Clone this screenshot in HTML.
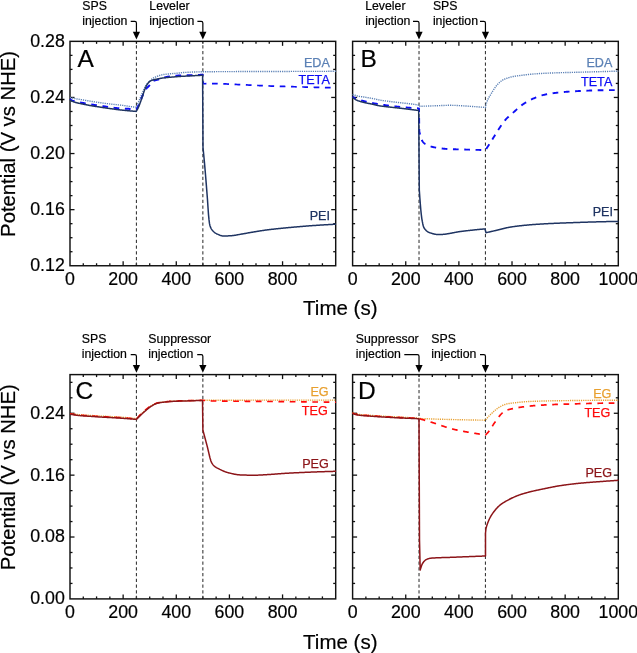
<!DOCTYPE html>
<html><head><meta charset="utf-8"><style>
html,body{margin:0;padding:0;background:#fff;width:637px;height:653px;overflow:hidden}
svg{display:block;will-change:transform}
text{font-family:"Liberation Sans", sans-serif;fill:#000;stroke:#000;stroke-width:0.2px}
</style></head><body>
<svg width="637" height="653" viewBox="0 0 637 653">
<rect width="637" height="653" fill="#fff"/>
<rect x="70" y="41.35" width="265.7" height="224.4" fill="none" stroke="#111" stroke-width="1.45"/>
<line x1="83.28" y1="265.75" x2="83.28" y2="263.25" stroke="#111" stroke-width="1.3"/>
<line x1="83.28" y1="41.35" x2="83.28" y2="43.85" stroke="#111" stroke-width="1.3"/>
<line x1="96.57" y1="265.75" x2="96.57" y2="263.25" stroke="#111" stroke-width="1.3"/>
<line x1="96.57" y1="41.35" x2="96.57" y2="43.85" stroke="#111" stroke-width="1.3"/>
<line x1="109.85" y1="265.75" x2="109.85" y2="263.25" stroke="#111" stroke-width="1.3"/>
<line x1="109.85" y1="41.35" x2="109.85" y2="43.85" stroke="#111" stroke-width="1.3"/>
<line x1="123.14" y1="265.75" x2="123.14" y2="261.25" stroke="#111" stroke-width="1.3"/>
<line x1="123.14" y1="41.35" x2="123.14" y2="45.85" stroke="#111" stroke-width="1.3"/>
<line x1="136.43" y1="265.75" x2="136.43" y2="263.25" stroke="#111" stroke-width="1.3"/>
<line x1="136.43" y1="41.35" x2="136.43" y2="43.85" stroke="#111" stroke-width="1.3"/>
<line x1="149.71" y1="265.75" x2="149.71" y2="263.25" stroke="#111" stroke-width="1.3"/>
<line x1="149.71" y1="41.35" x2="149.71" y2="43.85" stroke="#111" stroke-width="1.3"/>
<line x1="163.00" y1="265.75" x2="163.00" y2="263.25" stroke="#111" stroke-width="1.3"/>
<line x1="163.00" y1="41.35" x2="163.00" y2="43.85" stroke="#111" stroke-width="1.3"/>
<line x1="176.28" y1="265.75" x2="176.28" y2="261.25" stroke="#111" stroke-width="1.3"/>
<line x1="176.28" y1="41.35" x2="176.28" y2="45.85" stroke="#111" stroke-width="1.3"/>
<line x1="189.56" y1="265.75" x2="189.56" y2="263.25" stroke="#111" stroke-width="1.3"/>
<line x1="189.56" y1="41.35" x2="189.56" y2="43.85" stroke="#111" stroke-width="1.3"/>
<line x1="202.85" y1="265.75" x2="202.85" y2="263.25" stroke="#111" stroke-width="1.3"/>
<line x1="202.85" y1="41.35" x2="202.85" y2="43.85" stroke="#111" stroke-width="1.3"/>
<line x1="216.13" y1="265.75" x2="216.13" y2="263.25" stroke="#111" stroke-width="1.3"/>
<line x1="216.13" y1="41.35" x2="216.13" y2="43.85" stroke="#111" stroke-width="1.3"/>
<line x1="229.42" y1="265.75" x2="229.42" y2="261.25" stroke="#111" stroke-width="1.3"/>
<line x1="229.42" y1="41.35" x2="229.42" y2="45.85" stroke="#111" stroke-width="1.3"/>
<line x1="242.71" y1="265.75" x2="242.71" y2="263.25" stroke="#111" stroke-width="1.3"/>
<line x1="242.71" y1="41.35" x2="242.71" y2="43.85" stroke="#111" stroke-width="1.3"/>
<line x1="255.99" y1="265.75" x2="255.99" y2="263.25" stroke="#111" stroke-width="1.3"/>
<line x1="255.99" y1="41.35" x2="255.99" y2="43.85" stroke="#111" stroke-width="1.3"/>
<line x1="269.27" y1="265.75" x2="269.27" y2="263.25" stroke="#111" stroke-width="1.3"/>
<line x1="269.27" y1="41.35" x2="269.27" y2="43.85" stroke="#111" stroke-width="1.3"/>
<line x1="282.56" y1="265.75" x2="282.56" y2="261.25" stroke="#111" stroke-width="1.3"/>
<line x1="282.56" y1="41.35" x2="282.56" y2="45.85" stroke="#111" stroke-width="1.3"/>
<line x1="295.85" y1="265.75" x2="295.85" y2="263.25" stroke="#111" stroke-width="1.3"/>
<line x1="295.85" y1="41.35" x2="295.85" y2="43.85" stroke="#111" stroke-width="1.3"/>
<line x1="309.13" y1="265.75" x2="309.13" y2="263.25" stroke="#111" stroke-width="1.3"/>
<line x1="309.13" y1="41.35" x2="309.13" y2="43.85" stroke="#111" stroke-width="1.3"/>
<line x1="322.41" y1="265.75" x2="322.41" y2="263.25" stroke="#111" stroke-width="1.3"/>
<line x1="322.41" y1="41.35" x2="322.41" y2="43.85" stroke="#111" stroke-width="1.3"/>
<line x1="70" y1="251.72" x2="72.5" y2="251.72" stroke="#111" stroke-width="1.3"/>
<line x1="335.7" y1="251.72" x2="333.2" y2="251.72" stroke="#111" stroke-width="1.3"/>
<line x1="70" y1="237.70" x2="72.5" y2="237.70" stroke="#111" stroke-width="1.3"/>
<line x1="335.7" y1="237.70" x2="333.2" y2="237.70" stroke="#111" stroke-width="1.3"/>
<line x1="70" y1="223.68" x2="72.5" y2="223.68" stroke="#111" stroke-width="1.3"/>
<line x1="335.7" y1="223.68" x2="333.2" y2="223.68" stroke="#111" stroke-width="1.3"/>
<line x1="70" y1="209.65" x2="74.5" y2="209.65" stroke="#111" stroke-width="1.3"/>
<line x1="335.7" y1="209.65" x2="331.2" y2="209.65" stroke="#111" stroke-width="1.3"/>
<line x1="70" y1="195.63" x2="72.5" y2="195.63" stroke="#111" stroke-width="1.3"/>
<line x1="335.7" y1="195.63" x2="333.2" y2="195.63" stroke="#111" stroke-width="1.3"/>
<line x1="70" y1="181.60" x2="72.5" y2="181.60" stroke="#111" stroke-width="1.3"/>
<line x1="335.7" y1="181.60" x2="333.2" y2="181.60" stroke="#111" stroke-width="1.3"/>
<line x1="70" y1="167.57" x2="72.5" y2="167.57" stroke="#111" stroke-width="1.3"/>
<line x1="335.7" y1="167.57" x2="333.2" y2="167.57" stroke="#111" stroke-width="1.3"/>
<line x1="70" y1="153.55" x2="74.5" y2="153.55" stroke="#111" stroke-width="1.3"/>
<line x1="335.7" y1="153.55" x2="331.2" y2="153.55" stroke="#111" stroke-width="1.3"/>
<line x1="70" y1="139.53" x2="72.5" y2="139.53" stroke="#111" stroke-width="1.3"/>
<line x1="335.7" y1="139.53" x2="333.2" y2="139.53" stroke="#111" stroke-width="1.3"/>
<line x1="70" y1="125.50" x2="72.5" y2="125.50" stroke="#111" stroke-width="1.3"/>
<line x1="335.7" y1="125.50" x2="333.2" y2="125.50" stroke="#111" stroke-width="1.3"/>
<line x1="70" y1="111.48" x2="72.5" y2="111.48" stroke="#111" stroke-width="1.3"/>
<line x1="335.7" y1="111.48" x2="333.2" y2="111.48" stroke="#111" stroke-width="1.3"/>
<line x1="70" y1="97.45" x2="74.5" y2="97.45" stroke="#111" stroke-width="1.3"/>
<line x1="335.7" y1="97.45" x2="331.2" y2="97.45" stroke="#111" stroke-width="1.3"/>
<line x1="70" y1="83.43" x2="72.5" y2="83.43" stroke="#111" stroke-width="1.3"/>
<line x1="335.7" y1="83.43" x2="333.2" y2="83.43" stroke="#111" stroke-width="1.3"/>
<line x1="70" y1="69.40" x2="72.5" y2="69.40" stroke="#111" stroke-width="1.3"/>
<line x1="335.7" y1="69.40" x2="333.2" y2="69.40" stroke="#111" stroke-width="1.3"/>
<line x1="70" y1="55.38" x2="72.5" y2="55.38" stroke="#111" stroke-width="1.3"/>
<line x1="335.7" y1="55.38" x2="333.2" y2="55.38" stroke="#111" stroke-width="1.3"/>
<text x="64.8" y="271.15" font-size="17.8" text-anchor="end">0.12</text>
<text x="64.8" y="215.05" font-size="17.8" text-anchor="end">0.16</text>
<text x="64.8" y="158.95" font-size="17.8" text-anchor="end">0.20</text>
<text x="64.8" y="102.85" font-size="17.8" text-anchor="end">0.24</text>
<text x="64.8" y="46.75" font-size="17.8" text-anchor="end">0.28</text>
<text x="70.00" y="285.25" font-size="17.8" text-anchor="middle">0</text>
<text x="123.14" y="285.25" font-size="17.8" text-anchor="middle">200</text>
<text x="176.28" y="285.25" font-size="17.8" text-anchor="middle">400</text>
<text x="229.42" y="285.25" font-size="17.8" text-anchor="middle">600</text>
<text x="282.56" y="285.25" font-size="17.8" text-anchor="middle">800</text>
<rect x="352.6" y="41.35" width="265.69999999999993" height="224.4" fill="none" stroke="#111" stroke-width="1.45"/>
<line x1="365.88" y1="265.75" x2="365.88" y2="263.25" stroke="#111" stroke-width="1.3"/>
<line x1="365.88" y1="41.35" x2="365.88" y2="43.85" stroke="#111" stroke-width="1.3"/>
<line x1="379.17" y1="265.75" x2="379.17" y2="263.25" stroke="#111" stroke-width="1.3"/>
<line x1="379.17" y1="41.35" x2="379.17" y2="43.85" stroke="#111" stroke-width="1.3"/>
<line x1="392.46" y1="265.75" x2="392.46" y2="263.25" stroke="#111" stroke-width="1.3"/>
<line x1="392.46" y1="41.35" x2="392.46" y2="43.85" stroke="#111" stroke-width="1.3"/>
<line x1="405.74" y1="265.75" x2="405.74" y2="261.25" stroke="#111" stroke-width="1.3"/>
<line x1="405.74" y1="41.35" x2="405.74" y2="45.85" stroke="#111" stroke-width="1.3"/>
<line x1="419.02" y1="265.75" x2="419.02" y2="263.25" stroke="#111" stroke-width="1.3"/>
<line x1="419.02" y1="41.35" x2="419.02" y2="43.85" stroke="#111" stroke-width="1.3"/>
<line x1="432.31" y1="265.75" x2="432.31" y2="263.25" stroke="#111" stroke-width="1.3"/>
<line x1="432.31" y1="41.35" x2="432.31" y2="43.85" stroke="#111" stroke-width="1.3"/>
<line x1="445.60" y1="265.75" x2="445.60" y2="263.25" stroke="#111" stroke-width="1.3"/>
<line x1="445.60" y1="41.35" x2="445.60" y2="43.85" stroke="#111" stroke-width="1.3"/>
<line x1="458.88" y1="265.75" x2="458.88" y2="261.25" stroke="#111" stroke-width="1.3"/>
<line x1="458.88" y1="41.35" x2="458.88" y2="45.85" stroke="#111" stroke-width="1.3"/>
<line x1="472.16" y1="265.75" x2="472.16" y2="263.25" stroke="#111" stroke-width="1.3"/>
<line x1="472.16" y1="41.35" x2="472.16" y2="43.85" stroke="#111" stroke-width="1.3"/>
<line x1="485.45" y1="265.75" x2="485.45" y2="263.25" stroke="#111" stroke-width="1.3"/>
<line x1="485.45" y1="41.35" x2="485.45" y2="43.85" stroke="#111" stroke-width="1.3"/>
<line x1="498.74" y1="265.75" x2="498.74" y2="263.25" stroke="#111" stroke-width="1.3"/>
<line x1="498.74" y1="41.35" x2="498.74" y2="43.85" stroke="#111" stroke-width="1.3"/>
<line x1="512.02" y1="265.75" x2="512.02" y2="261.25" stroke="#111" stroke-width="1.3"/>
<line x1="512.02" y1="41.35" x2="512.02" y2="45.85" stroke="#111" stroke-width="1.3"/>
<line x1="525.30" y1="265.75" x2="525.30" y2="263.25" stroke="#111" stroke-width="1.3"/>
<line x1="525.30" y1="41.35" x2="525.30" y2="43.85" stroke="#111" stroke-width="1.3"/>
<line x1="538.59" y1="265.75" x2="538.59" y2="263.25" stroke="#111" stroke-width="1.3"/>
<line x1="538.59" y1="41.35" x2="538.59" y2="43.85" stroke="#111" stroke-width="1.3"/>
<line x1="551.88" y1="265.75" x2="551.88" y2="263.25" stroke="#111" stroke-width="1.3"/>
<line x1="551.88" y1="41.35" x2="551.88" y2="43.85" stroke="#111" stroke-width="1.3"/>
<line x1="565.16" y1="265.75" x2="565.16" y2="261.25" stroke="#111" stroke-width="1.3"/>
<line x1="565.16" y1="41.35" x2="565.16" y2="45.85" stroke="#111" stroke-width="1.3"/>
<line x1="578.44" y1="265.75" x2="578.44" y2="263.25" stroke="#111" stroke-width="1.3"/>
<line x1="578.44" y1="41.35" x2="578.44" y2="43.85" stroke="#111" stroke-width="1.3"/>
<line x1="591.73" y1="265.75" x2="591.73" y2="263.25" stroke="#111" stroke-width="1.3"/>
<line x1="591.73" y1="41.35" x2="591.73" y2="43.85" stroke="#111" stroke-width="1.3"/>
<line x1="605.01" y1="265.75" x2="605.01" y2="263.25" stroke="#111" stroke-width="1.3"/>
<line x1="605.01" y1="41.35" x2="605.01" y2="43.85" stroke="#111" stroke-width="1.3"/>
<line x1="352.6" y1="251.72" x2="355.1" y2="251.72" stroke="#111" stroke-width="1.3"/>
<line x1="618.3" y1="251.72" x2="615.8" y2="251.72" stroke="#111" stroke-width="1.3"/>
<line x1="352.6" y1="237.70" x2="355.1" y2="237.70" stroke="#111" stroke-width="1.3"/>
<line x1="618.3" y1="237.70" x2="615.8" y2="237.70" stroke="#111" stroke-width="1.3"/>
<line x1="352.6" y1="223.68" x2="355.1" y2="223.68" stroke="#111" stroke-width="1.3"/>
<line x1="618.3" y1="223.68" x2="615.8" y2="223.68" stroke="#111" stroke-width="1.3"/>
<line x1="352.6" y1="209.65" x2="357.1" y2="209.65" stroke="#111" stroke-width="1.3"/>
<line x1="618.3" y1="209.65" x2="613.8" y2="209.65" stroke="#111" stroke-width="1.3"/>
<line x1="352.6" y1="195.63" x2="355.1" y2="195.63" stroke="#111" stroke-width="1.3"/>
<line x1="618.3" y1="195.63" x2="615.8" y2="195.63" stroke="#111" stroke-width="1.3"/>
<line x1="352.6" y1="181.60" x2="355.1" y2="181.60" stroke="#111" stroke-width="1.3"/>
<line x1="618.3" y1="181.60" x2="615.8" y2="181.60" stroke="#111" stroke-width="1.3"/>
<line x1="352.6" y1="167.57" x2="355.1" y2="167.57" stroke="#111" stroke-width="1.3"/>
<line x1="618.3" y1="167.57" x2="615.8" y2="167.57" stroke="#111" stroke-width="1.3"/>
<line x1="352.6" y1="153.55" x2="357.1" y2="153.55" stroke="#111" stroke-width="1.3"/>
<line x1="618.3" y1="153.55" x2="613.8" y2="153.55" stroke="#111" stroke-width="1.3"/>
<line x1="352.6" y1="139.53" x2="355.1" y2="139.53" stroke="#111" stroke-width="1.3"/>
<line x1="618.3" y1="139.53" x2="615.8" y2="139.53" stroke="#111" stroke-width="1.3"/>
<line x1="352.6" y1="125.50" x2="355.1" y2="125.50" stroke="#111" stroke-width="1.3"/>
<line x1="618.3" y1="125.50" x2="615.8" y2="125.50" stroke="#111" stroke-width="1.3"/>
<line x1="352.6" y1="111.48" x2="355.1" y2="111.48" stroke="#111" stroke-width="1.3"/>
<line x1="618.3" y1="111.48" x2="615.8" y2="111.48" stroke="#111" stroke-width="1.3"/>
<line x1="352.6" y1="97.45" x2="357.1" y2="97.45" stroke="#111" stroke-width="1.3"/>
<line x1="618.3" y1="97.45" x2="613.8" y2="97.45" stroke="#111" stroke-width="1.3"/>
<line x1="352.6" y1="83.43" x2="355.1" y2="83.43" stroke="#111" stroke-width="1.3"/>
<line x1="618.3" y1="83.43" x2="615.8" y2="83.43" stroke="#111" stroke-width="1.3"/>
<line x1="352.6" y1="69.40" x2="355.1" y2="69.40" stroke="#111" stroke-width="1.3"/>
<line x1="618.3" y1="69.40" x2="615.8" y2="69.40" stroke="#111" stroke-width="1.3"/>
<line x1="352.6" y1="55.38" x2="355.1" y2="55.38" stroke="#111" stroke-width="1.3"/>
<line x1="618.3" y1="55.38" x2="615.8" y2="55.38" stroke="#111" stroke-width="1.3"/>
<text x="352.60" y="285.25" font-size="17.8" text-anchor="middle">0</text>
<text x="405.74" y="285.25" font-size="17.8" text-anchor="middle">200</text>
<text x="458.88" y="285.25" font-size="17.8" text-anchor="middle">400</text>
<text x="512.02" y="285.25" font-size="17.8" text-anchor="middle">600</text>
<text x="565.16" y="285.25" font-size="17.8" text-anchor="middle">800</text>
<text x="618.30" y="285.25" font-size="17.8" text-anchor="middle">1000</text>
<rect x="70" y="374.6" width="265.7" height="224.29999999999995" fill="none" stroke="#111" stroke-width="1.45"/>
<line x1="83.28" y1="598.9" x2="83.28" y2="596.4" stroke="#111" stroke-width="1.3"/>
<line x1="83.28" y1="374.6" x2="83.28" y2="377.1" stroke="#111" stroke-width="1.3"/>
<line x1="96.57" y1="598.9" x2="96.57" y2="596.4" stroke="#111" stroke-width="1.3"/>
<line x1="96.57" y1="374.6" x2="96.57" y2="377.1" stroke="#111" stroke-width="1.3"/>
<line x1="109.85" y1="598.9" x2="109.85" y2="596.4" stroke="#111" stroke-width="1.3"/>
<line x1="109.85" y1="374.6" x2="109.85" y2="377.1" stroke="#111" stroke-width="1.3"/>
<line x1="123.14" y1="598.9" x2="123.14" y2="594.4" stroke="#111" stroke-width="1.3"/>
<line x1="123.14" y1="374.6" x2="123.14" y2="379.1" stroke="#111" stroke-width="1.3"/>
<line x1="136.43" y1="598.9" x2="136.43" y2="596.4" stroke="#111" stroke-width="1.3"/>
<line x1="136.43" y1="374.6" x2="136.43" y2="377.1" stroke="#111" stroke-width="1.3"/>
<line x1="149.71" y1="598.9" x2="149.71" y2="596.4" stroke="#111" stroke-width="1.3"/>
<line x1="149.71" y1="374.6" x2="149.71" y2="377.1" stroke="#111" stroke-width="1.3"/>
<line x1="163.00" y1="598.9" x2="163.00" y2="596.4" stroke="#111" stroke-width="1.3"/>
<line x1="163.00" y1="374.6" x2="163.00" y2="377.1" stroke="#111" stroke-width="1.3"/>
<line x1="176.28" y1="598.9" x2="176.28" y2="594.4" stroke="#111" stroke-width="1.3"/>
<line x1="176.28" y1="374.6" x2="176.28" y2="379.1" stroke="#111" stroke-width="1.3"/>
<line x1="189.56" y1="598.9" x2="189.56" y2="596.4" stroke="#111" stroke-width="1.3"/>
<line x1="189.56" y1="374.6" x2="189.56" y2="377.1" stroke="#111" stroke-width="1.3"/>
<line x1="202.85" y1="598.9" x2="202.85" y2="596.4" stroke="#111" stroke-width="1.3"/>
<line x1="202.85" y1="374.6" x2="202.85" y2="377.1" stroke="#111" stroke-width="1.3"/>
<line x1="216.13" y1="598.9" x2="216.13" y2="596.4" stroke="#111" stroke-width="1.3"/>
<line x1="216.13" y1="374.6" x2="216.13" y2="377.1" stroke="#111" stroke-width="1.3"/>
<line x1="229.42" y1="598.9" x2="229.42" y2="594.4" stroke="#111" stroke-width="1.3"/>
<line x1="229.42" y1="374.6" x2="229.42" y2="379.1" stroke="#111" stroke-width="1.3"/>
<line x1="242.71" y1="598.9" x2="242.71" y2="596.4" stroke="#111" stroke-width="1.3"/>
<line x1="242.71" y1="374.6" x2="242.71" y2="377.1" stroke="#111" stroke-width="1.3"/>
<line x1="255.99" y1="598.9" x2="255.99" y2="596.4" stroke="#111" stroke-width="1.3"/>
<line x1="255.99" y1="374.6" x2="255.99" y2="377.1" stroke="#111" stroke-width="1.3"/>
<line x1="269.27" y1="598.9" x2="269.27" y2="596.4" stroke="#111" stroke-width="1.3"/>
<line x1="269.27" y1="374.6" x2="269.27" y2="377.1" stroke="#111" stroke-width="1.3"/>
<line x1="282.56" y1="598.9" x2="282.56" y2="594.4" stroke="#111" stroke-width="1.3"/>
<line x1="282.56" y1="374.6" x2="282.56" y2="379.1" stroke="#111" stroke-width="1.3"/>
<line x1="295.85" y1="598.9" x2="295.85" y2="596.4" stroke="#111" stroke-width="1.3"/>
<line x1="295.85" y1="374.6" x2="295.85" y2="377.1" stroke="#111" stroke-width="1.3"/>
<line x1="309.13" y1="598.9" x2="309.13" y2="596.4" stroke="#111" stroke-width="1.3"/>
<line x1="309.13" y1="374.6" x2="309.13" y2="377.1" stroke="#111" stroke-width="1.3"/>
<line x1="322.41" y1="598.9" x2="322.41" y2="596.4" stroke="#111" stroke-width="1.3"/>
<line x1="322.41" y1="374.6" x2="322.41" y2="377.1" stroke="#111" stroke-width="1.3"/>
<line x1="70" y1="583.43" x2="72.5" y2="583.43" stroke="#111" stroke-width="1.3"/>
<line x1="335.7" y1="583.43" x2="333.2" y2="583.43" stroke="#111" stroke-width="1.3"/>
<line x1="70" y1="567.96" x2="72.5" y2="567.96" stroke="#111" stroke-width="1.3"/>
<line x1="335.7" y1="567.96" x2="333.2" y2="567.96" stroke="#111" stroke-width="1.3"/>
<line x1="70" y1="552.49" x2="72.5" y2="552.49" stroke="#111" stroke-width="1.3"/>
<line x1="335.7" y1="552.49" x2="333.2" y2="552.49" stroke="#111" stroke-width="1.3"/>
<line x1="70" y1="537.02" x2="74.5" y2="537.02" stroke="#111" stroke-width="1.3"/>
<line x1="335.7" y1="537.02" x2="331.2" y2="537.02" stroke="#111" stroke-width="1.3"/>
<line x1="70" y1="521.56" x2="72.5" y2="521.56" stroke="#111" stroke-width="1.3"/>
<line x1="335.7" y1="521.56" x2="333.2" y2="521.56" stroke="#111" stroke-width="1.3"/>
<line x1="70" y1="506.09" x2="72.5" y2="506.09" stroke="#111" stroke-width="1.3"/>
<line x1="335.7" y1="506.09" x2="333.2" y2="506.09" stroke="#111" stroke-width="1.3"/>
<line x1="70" y1="490.62" x2="72.5" y2="490.62" stroke="#111" stroke-width="1.3"/>
<line x1="335.7" y1="490.62" x2="333.2" y2="490.62" stroke="#111" stroke-width="1.3"/>
<line x1="70" y1="475.15" x2="74.5" y2="475.15" stroke="#111" stroke-width="1.3"/>
<line x1="335.7" y1="475.15" x2="331.2" y2="475.15" stroke="#111" stroke-width="1.3"/>
<line x1="70" y1="459.68" x2="72.5" y2="459.68" stroke="#111" stroke-width="1.3"/>
<line x1="335.7" y1="459.68" x2="333.2" y2="459.68" stroke="#111" stroke-width="1.3"/>
<line x1="70" y1="444.21" x2="72.5" y2="444.21" stroke="#111" stroke-width="1.3"/>
<line x1="335.7" y1="444.21" x2="333.2" y2="444.21" stroke="#111" stroke-width="1.3"/>
<line x1="70" y1="428.74" x2="72.5" y2="428.74" stroke="#111" stroke-width="1.3"/>
<line x1="335.7" y1="428.74" x2="333.2" y2="428.74" stroke="#111" stroke-width="1.3"/>
<line x1="70" y1="413.27" x2="74.5" y2="413.27" stroke="#111" stroke-width="1.3"/>
<line x1="335.7" y1="413.27" x2="331.2" y2="413.27" stroke="#111" stroke-width="1.3"/>
<line x1="70" y1="397.80" x2="72.5" y2="397.80" stroke="#111" stroke-width="1.3"/>
<line x1="335.7" y1="397.80" x2="333.2" y2="397.80" stroke="#111" stroke-width="1.3"/>
<line x1="70" y1="382.33" x2="72.5" y2="382.33" stroke="#111" stroke-width="1.3"/>
<line x1="335.7" y1="382.33" x2="333.2" y2="382.33" stroke="#111" stroke-width="1.3"/>
<text x="64.8" y="604.30" font-size="17.8" text-anchor="end">0.00</text>
<text x="64.8" y="542.42" font-size="17.8" text-anchor="end">0.08</text>
<text x="64.8" y="480.55" font-size="17.8" text-anchor="end">0.16</text>
<text x="64.8" y="418.67" font-size="17.8" text-anchor="end">0.24</text>
<text x="70.00" y="618.4" font-size="17.8" text-anchor="middle">0</text>
<text x="123.14" y="618.4" font-size="17.8" text-anchor="middle">200</text>
<text x="176.28" y="618.4" font-size="17.8" text-anchor="middle">400</text>
<text x="229.42" y="618.4" font-size="17.8" text-anchor="middle">600</text>
<text x="282.56" y="618.4" font-size="17.8" text-anchor="middle">800</text>
<rect x="352.6" y="374.6" width="265.69999999999993" height="224.29999999999995" fill="none" stroke="#111" stroke-width="1.45"/>
<line x1="365.88" y1="598.9" x2="365.88" y2="596.4" stroke="#111" stroke-width="1.3"/>
<line x1="365.88" y1="374.6" x2="365.88" y2="377.1" stroke="#111" stroke-width="1.3"/>
<line x1="379.17" y1="598.9" x2="379.17" y2="596.4" stroke="#111" stroke-width="1.3"/>
<line x1="379.17" y1="374.6" x2="379.17" y2="377.1" stroke="#111" stroke-width="1.3"/>
<line x1="392.46" y1="598.9" x2="392.46" y2="596.4" stroke="#111" stroke-width="1.3"/>
<line x1="392.46" y1="374.6" x2="392.46" y2="377.1" stroke="#111" stroke-width="1.3"/>
<line x1="405.74" y1="598.9" x2="405.74" y2="594.4" stroke="#111" stroke-width="1.3"/>
<line x1="405.74" y1="374.6" x2="405.74" y2="379.1" stroke="#111" stroke-width="1.3"/>
<line x1="419.02" y1="598.9" x2="419.02" y2="596.4" stroke="#111" stroke-width="1.3"/>
<line x1="419.02" y1="374.6" x2="419.02" y2="377.1" stroke="#111" stroke-width="1.3"/>
<line x1="432.31" y1="598.9" x2="432.31" y2="596.4" stroke="#111" stroke-width="1.3"/>
<line x1="432.31" y1="374.6" x2="432.31" y2="377.1" stroke="#111" stroke-width="1.3"/>
<line x1="445.60" y1="598.9" x2="445.60" y2="596.4" stroke="#111" stroke-width="1.3"/>
<line x1="445.60" y1="374.6" x2="445.60" y2="377.1" stroke="#111" stroke-width="1.3"/>
<line x1="458.88" y1="598.9" x2="458.88" y2="594.4" stroke="#111" stroke-width="1.3"/>
<line x1="458.88" y1="374.6" x2="458.88" y2="379.1" stroke="#111" stroke-width="1.3"/>
<line x1="472.16" y1="598.9" x2="472.16" y2="596.4" stroke="#111" stroke-width="1.3"/>
<line x1="472.16" y1="374.6" x2="472.16" y2="377.1" stroke="#111" stroke-width="1.3"/>
<line x1="485.45" y1="598.9" x2="485.45" y2="596.4" stroke="#111" stroke-width="1.3"/>
<line x1="485.45" y1="374.6" x2="485.45" y2="377.1" stroke="#111" stroke-width="1.3"/>
<line x1="498.74" y1="598.9" x2="498.74" y2="596.4" stroke="#111" stroke-width="1.3"/>
<line x1="498.74" y1="374.6" x2="498.74" y2="377.1" stroke="#111" stroke-width="1.3"/>
<line x1="512.02" y1="598.9" x2="512.02" y2="594.4" stroke="#111" stroke-width="1.3"/>
<line x1="512.02" y1="374.6" x2="512.02" y2="379.1" stroke="#111" stroke-width="1.3"/>
<line x1="525.30" y1="598.9" x2="525.30" y2="596.4" stroke="#111" stroke-width="1.3"/>
<line x1="525.30" y1="374.6" x2="525.30" y2="377.1" stroke="#111" stroke-width="1.3"/>
<line x1="538.59" y1="598.9" x2="538.59" y2="596.4" stroke="#111" stroke-width="1.3"/>
<line x1="538.59" y1="374.6" x2="538.59" y2="377.1" stroke="#111" stroke-width="1.3"/>
<line x1="551.88" y1="598.9" x2="551.88" y2="596.4" stroke="#111" stroke-width="1.3"/>
<line x1="551.88" y1="374.6" x2="551.88" y2="377.1" stroke="#111" stroke-width="1.3"/>
<line x1="565.16" y1="598.9" x2="565.16" y2="594.4" stroke="#111" stroke-width="1.3"/>
<line x1="565.16" y1="374.6" x2="565.16" y2="379.1" stroke="#111" stroke-width="1.3"/>
<line x1="578.44" y1="598.9" x2="578.44" y2="596.4" stroke="#111" stroke-width="1.3"/>
<line x1="578.44" y1="374.6" x2="578.44" y2="377.1" stroke="#111" stroke-width="1.3"/>
<line x1="591.73" y1="598.9" x2="591.73" y2="596.4" stroke="#111" stroke-width="1.3"/>
<line x1="591.73" y1="374.6" x2="591.73" y2="377.1" stroke="#111" stroke-width="1.3"/>
<line x1="605.01" y1="598.9" x2="605.01" y2="596.4" stroke="#111" stroke-width="1.3"/>
<line x1="605.01" y1="374.6" x2="605.01" y2="377.1" stroke="#111" stroke-width="1.3"/>
<line x1="352.6" y1="583.43" x2="355.1" y2="583.43" stroke="#111" stroke-width="1.3"/>
<line x1="618.3" y1="583.43" x2="615.8" y2="583.43" stroke="#111" stroke-width="1.3"/>
<line x1="352.6" y1="567.96" x2="355.1" y2="567.96" stroke="#111" stroke-width="1.3"/>
<line x1="618.3" y1="567.96" x2="615.8" y2="567.96" stroke="#111" stroke-width="1.3"/>
<line x1="352.6" y1="552.49" x2="355.1" y2="552.49" stroke="#111" stroke-width="1.3"/>
<line x1="618.3" y1="552.49" x2="615.8" y2="552.49" stroke="#111" stroke-width="1.3"/>
<line x1="352.6" y1="537.02" x2="357.1" y2="537.02" stroke="#111" stroke-width="1.3"/>
<line x1="618.3" y1="537.02" x2="613.8" y2="537.02" stroke="#111" stroke-width="1.3"/>
<line x1="352.6" y1="521.56" x2="355.1" y2="521.56" stroke="#111" stroke-width="1.3"/>
<line x1="618.3" y1="521.56" x2="615.8" y2="521.56" stroke="#111" stroke-width="1.3"/>
<line x1="352.6" y1="506.09" x2="355.1" y2="506.09" stroke="#111" stroke-width="1.3"/>
<line x1="618.3" y1="506.09" x2="615.8" y2="506.09" stroke="#111" stroke-width="1.3"/>
<line x1="352.6" y1="490.62" x2="355.1" y2="490.62" stroke="#111" stroke-width="1.3"/>
<line x1="618.3" y1="490.62" x2="615.8" y2="490.62" stroke="#111" stroke-width="1.3"/>
<line x1="352.6" y1="475.15" x2="357.1" y2="475.15" stroke="#111" stroke-width="1.3"/>
<line x1="618.3" y1="475.15" x2="613.8" y2="475.15" stroke="#111" stroke-width="1.3"/>
<line x1="352.6" y1="459.68" x2="355.1" y2="459.68" stroke="#111" stroke-width="1.3"/>
<line x1="618.3" y1="459.68" x2="615.8" y2="459.68" stroke="#111" stroke-width="1.3"/>
<line x1="352.6" y1="444.21" x2="355.1" y2="444.21" stroke="#111" stroke-width="1.3"/>
<line x1="618.3" y1="444.21" x2="615.8" y2="444.21" stroke="#111" stroke-width="1.3"/>
<line x1="352.6" y1="428.74" x2="355.1" y2="428.74" stroke="#111" stroke-width="1.3"/>
<line x1="618.3" y1="428.74" x2="615.8" y2="428.74" stroke="#111" stroke-width="1.3"/>
<line x1="352.6" y1="413.27" x2="357.1" y2="413.27" stroke="#111" stroke-width="1.3"/>
<line x1="618.3" y1="413.27" x2="613.8" y2="413.27" stroke="#111" stroke-width="1.3"/>
<line x1="352.6" y1="397.80" x2="355.1" y2="397.80" stroke="#111" stroke-width="1.3"/>
<line x1="618.3" y1="397.80" x2="615.8" y2="397.80" stroke="#111" stroke-width="1.3"/>
<line x1="352.6" y1="382.33" x2="355.1" y2="382.33" stroke="#111" stroke-width="1.3"/>
<line x1="618.3" y1="382.33" x2="615.8" y2="382.33" stroke="#111" stroke-width="1.3"/>
<text x="352.60" y="618.4" font-size="17.8" text-anchor="middle">0</text>
<text x="405.74" y="618.4" font-size="17.8" text-anchor="middle">200</text>
<text x="458.88" y="618.4" font-size="17.8" text-anchor="middle">400</text>
<text x="512.02" y="618.4" font-size="17.8" text-anchor="middle">600</text>
<text x="565.16" y="618.4" font-size="17.8" text-anchor="middle">800</text>
<text x="618.30" y="618.4" font-size="17.8" text-anchor="middle">1000</text>
<line x1="136.43" y1="45.25" x2="136.43" y2="264.95" stroke="#3a3a3a" stroke-width="1.1" stroke-dasharray="3.3 2.42"/>
<line x1="202.85" y1="45.25" x2="202.85" y2="264.95" stroke="#3a3a3a" stroke-width="1.1" stroke-dasharray="3.3 2.42"/>
<line x1="419.02" y1="45.25" x2="419.02" y2="264.95" stroke="#3a3a3a" stroke-width="1.1" stroke-dasharray="3.3 2.42"/>
<line x1="485.45" y1="45.25" x2="485.45" y2="264.95" stroke="#3a3a3a" stroke-width="1.1" stroke-dasharray="3.3 2.42"/>
<line x1="136.43" y1="378.50" x2="136.43" y2="598.10" stroke="#3a3a3a" stroke-width="1.1" stroke-dasharray="3.3 2.42"/>
<line x1="202.85" y1="378.50" x2="202.85" y2="598.10" stroke="#3a3a3a" stroke-width="1.1" stroke-dasharray="3.3 2.42"/>
<line x1="419.02" y1="378.50" x2="419.02" y2="598.10" stroke="#3a3a3a" stroke-width="1.1" stroke-dasharray="3.3 2.42"/>
<line x1="485.45" y1="378.50" x2="485.45" y2="598.10" stroke="#3a3a3a" stroke-width="1.1" stroke-dasharray="3.3 2.42"/>
<text x="82.30" y="9.85" font-size="12.3">SPS</text>
<text x="82.30" y="24.85" font-size="12.3">injection</text>
<path d="M130.70,21.45 L134.83,21.45 Q136.43,21.45 136.43,23.05 L136.43,33.35" fill="none" stroke="#000" stroke-width="1.2"/>
<path d="M132.83,31.85 L140.03,31.85 L136.43,39.55 Z" fill="#000"/>
<text x="149.30" y="9.85" font-size="12.3">Leveler</text>
<text x="149.30" y="24.85" font-size="12.3">injection</text>
<path d="M197.40,21.45 L201.25,21.45 Q202.85,21.45 202.85,23.05 L202.85,33.35" fill="none" stroke="#000" stroke-width="1.2"/>
<path d="M199.25,31.85 L206.45,31.85 L202.85,39.55 Z" fill="#000"/>
<text x="365.20" y="9.85" font-size="12.3">Leveler</text>
<text x="365.20" y="24.85" font-size="12.3">injection</text>
<path d="M413.00,21.45 L417.42,21.45 Q419.02,21.45 419.02,23.05 L419.02,33.35" fill="none" stroke="#000" stroke-width="1.2"/>
<path d="M415.42,31.85 L422.62,31.85 L419.02,39.55 Z" fill="#000"/>
<text x="432.90" y="9.85" font-size="12.3">SPS</text>
<text x="432.90" y="24.85" font-size="12.3">injection</text>
<path d="M480.00,21.45 L483.85,21.45 Q485.45,21.45 485.45,23.05 L485.45,33.35" fill="none" stroke="#000" stroke-width="1.2"/>
<path d="M481.85,31.85 L489.05,31.85 L485.45,39.55 Z" fill="#000"/>
<text x="81.80" y="343.10" font-size="12.3">SPS</text>
<text x="81.80" y="358.10" font-size="12.3">injection</text>
<path d="M130.70,354.70 L134.83,354.70 Q136.43,354.70 136.43,356.30 L136.43,366.6" fill="none" stroke="#000" stroke-width="1.2"/>
<path d="M132.83,365.10 L140.03,365.10 L136.43,372.80 Z" fill="#000"/>
<text x="148.30" y="343.10" font-size="12.3">Suppressor</text>
<text x="148.30" y="358.10" font-size="12.3">injection</text>
<path d="M197.20,354.70 L201.25,354.70 Q202.85,354.70 202.85,356.30 L202.85,366.6" fill="none" stroke="#000" stroke-width="1.2"/>
<path d="M199.25,365.10 L206.45,365.10 L202.85,372.80 Z" fill="#000"/>
<text x="355.80" y="343.10" font-size="12.3">Suppressor</text>
<text x="355.80" y="358.10" font-size="12.3">injection</text>
<path d="M404.30,354.70 L417.42,354.70 Q419.02,354.70 419.02,356.30 L419.02,366.6" fill="none" stroke="#000" stroke-width="1.2"/>
<path d="M415.42,365.10 L422.62,365.10 L419.02,372.80 Z" fill="#000"/>
<text x="431.30" y="343.10" font-size="12.3">SPS</text>
<text x="431.30" y="358.10" font-size="12.3">injection</text>
<path d="M480.00,354.70 L483.85,354.70 Q485.45,354.70 485.45,356.30 L485.45,366.6" fill="none" stroke="#000" stroke-width="1.2"/>
<path d="M481.85,365.10 L489.05,365.10 L485.45,372.80 Z" fill="#000"/>
<text x="77.4" y="67.1" font-size="24.5">A</text>
<text x="360.5" y="67" font-size="24.5">B</text>
<text x="75.4" y="398.6" font-size="24.5">C</text>
<text x="357.9" y="398.9" font-size="24.5">D</text>
<text x="340.3" y="315.4" font-size="20.5" text-anchor="middle">Time (s)</text>
<text x="340.3" y="649" font-size="20.5" text-anchor="middle">Time (s)</text>
<text transform="translate(14.8,143.9) rotate(-90)" font-size="20.3" text-anchor="middle">Potential (V vs NHE)</text>
<text transform="translate(14.8,477.2) rotate(-90)" font-size="20.3" text-anchor="middle">Potential (V vs NHE)</text>
<path d="M70.00,97.30 L70.50,97.45 L71.00,97.60 L71.50,97.75 L72.00,97.89 L72.50,98.02 L73.00,98.15 L73.50,98.27 L74.00,98.39 L74.50,98.50 L75.00,98.60 L75.50,98.70 L76.00,98.78 L76.50,98.87 L77.00,98.94 L77.50,99.02 L78.00,99.09 L78.50,99.17 L79.00,99.24 L79.50,99.32 L80.00,99.40 L80.50,99.48 L81.00,99.57 L81.50,99.66 L82.00,99.75 L82.50,99.84 L83.00,99.93 L83.50,100.02 L84.00,100.11 L84.50,100.20 L85.00,100.29 L85.50,100.38 L86.00,100.47 L86.50,100.55 L87.00,100.63 L87.50,100.72 L88.00,100.80 L88.50,100.88 L89.00,100.96 L89.50,101.04 L90.00,101.12 L90.50,101.20 L91.00,101.29 L91.50,101.37 L92.00,101.45 L92.50,101.53 L93.00,101.60 L93.50,101.68 L94.00,101.76 L94.50,101.84 L95.00,101.92 L95.50,102.00 L96.00,102.07 L96.50,102.15 L97.00,102.23 L97.50,102.30 L98.00,102.38 L98.50,102.45 L99.00,102.52 L99.50,102.60 L100.00,102.67 L100.50,102.74 L101.00,102.81 L101.50,102.88 L102.00,102.95 L102.50,103.02 L103.00,103.09 L103.50,103.16 L104.00,103.23 L104.50,103.29 L105.00,103.36 L105.50,103.43 L106.00,103.49 L106.50,103.55 L107.00,103.61 L107.50,103.67 L108.00,103.73 L108.50,103.79 L109.00,103.85 L109.50,103.91 L110.00,103.96 L110.50,104.02 L111.00,104.08 L111.50,104.13 L112.00,104.19 L112.50,104.24 L113.00,104.29 L113.50,104.35 L114.00,104.40 L114.50,104.45 L115.00,104.51 L115.50,104.56 L116.00,104.61 L116.50,104.67 L117.00,104.72 L117.50,104.78 L118.00,104.83 L118.50,104.89 L119.00,104.95 L119.50,105.00 L120.00,105.06 L120.50,105.12 L121.00,105.18 L121.50,105.24 L122.00,105.30 L122.50,105.36 L123.00,105.43 L123.50,105.49 L124.00,105.56 L124.50,105.63 L125.00,105.70 L125.50,105.78 L126.00,105.86 L126.50,105.93 L127.00,106.01 L127.50,106.09 L128.00,106.17 L128.50,106.24 L129.00,106.32 L129.50,106.40 L130.00,106.47 L130.50,106.54 L131.00,106.62 L131.50,106.69 L132.00,106.75 L132.50,106.82 L133.00,106.88 L133.50,106.94 L134.00,106.99 L134.50,107.04 L135.00,107.09 L135.50,107.13 L136.00,107.17 L136.40,107.20 L136.90,106.03 L137.40,104.84 L137.90,103.64 L138.40,102.42 L138.90,101.19 L139.40,99.96 L139.90,98.74 L140.40,97.52 L140.90,96.29 L141.40,95.06 L141.90,93.85 L142.40,92.66 L142.90,91.52 L143.40,90.41 L143.90,89.29 L144.40,88.19 L144.90,87.14 L145.40,86.19 L145.90,85.35 L146.40,84.64 L146.90,84.02 L147.40,83.45 L147.90,82.92 L148.40,82.40 L148.90,81.90 L149.40,81.43 L149.90,80.97 L150.40,80.50 L150.90,79.98 L151.40,79.43 L151.90,78.92 L152.40,78.53 L152.90,78.24 L153.40,77.99 L153.90,77.77 L154.40,77.55 L154.90,77.31 L155.40,77.08 L155.90,76.86 L156.40,76.64 L156.90,76.43 L157.40,76.23 L157.90,76.03 L158.40,75.84 L158.90,75.65 L159.40,75.48 L159.90,75.33 L160.40,75.20 L160.90,75.07 L161.40,74.96 L161.90,74.85 L162.40,74.74 L162.90,74.64 L163.40,74.55 L163.90,74.46 L164.40,74.39 L164.90,74.31 L165.40,74.25 L165.90,74.19 L166.40,74.13 L166.90,74.08 L167.40,74.03 L167.90,73.99 L168.40,73.94 L168.90,73.90 L169.40,73.85 L169.90,73.81 L170.40,73.76 L170.90,73.72 L171.40,73.68 L171.90,73.64 L172.40,73.60 L172.90,73.56 L173.40,73.52 L173.90,73.48 L174.40,73.44 L174.90,73.40 L175.40,73.35 L175.90,73.31 L176.40,73.26 L176.90,73.21 L177.40,73.16 L177.90,73.11 L178.40,73.05 L178.90,72.99 L179.40,72.94 L179.90,72.88 L180.40,72.82 L180.90,72.77 L181.40,72.72 L181.90,72.67 L182.40,72.62 L182.90,72.58 L183.40,72.54 L183.90,72.51 L184.40,72.48 L184.90,72.45 L185.40,72.42 L185.90,72.39 L186.40,72.36 L186.90,72.34 L187.40,72.31 L187.90,72.28 L188.40,72.26 L188.90,72.23 L189.40,72.21 L189.90,72.18 L190.40,72.16 L190.90,72.14 L191.40,72.11 L191.90,72.09 L192.40,72.07 L192.90,72.05 L193.40,72.03 L193.90,72.01 L194.40,71.99 L194.90,71.97 L195.40,71.96 L195.90,71.94 L196.40,71.92 L196.90,71.91 L197.40,71.89 L197.90,71.88 L198.40,71.87 L198.90,71.86 L199.40,71.84 L199.90,71.83 L200.40,71.82 L200.90,71.82 L201.40,71.81 L201.90,71.80 L202.40,71.79 L202.90,71.79 L203.40,71.78 L203.90,71.78 L204.40,71.77 L204.90,71.77 L205.40,71.76 L205.90,71.75 L206.40,71.75 L206.90,71.74 L207.40,71.74 L207.90,71.73 L208.40,71.73 L208.90,71.73 L209.40,71.72 L209.90,71.72 L210.40,71.71 L210.90,71.71 L211.40,71.70 L211.90,71.70 L212.40,71.70 L212.90,71.69 L213.40,71.69 L213.90,71.68 L214.40,71.68 L214.90,71.68 L215.40,71.67 L215.90,71.67 L216.40,71.67 L216.90,71.67 L217.40,71.66 L217.90,71.66 L218.40,71.66 L218.90,71.65 L219.40,71.65 L219.90,71.65 L220.40,71.64 L220.90,71.64 L221.40,71.64 L221.90,71.64 L222.40,71.63 L222.90,71.63 L223.40,71.63 L223.90,71.63 L224.40,71.62 L224.90,71.62 L225.40,71.62 L225.90,71.62 L226.40,71.62 L226.90,71.61 L227.40,71.61 L227.90,71.61 L228.40,71.61 L228.90,71.60 L229.40,71.60 L229.90,71.60 L230.40,71.60 L230.90,71.60 L231.40,71.59 L231.90,71.59 L232.40,71.59 L232.90,71.59 L233.40,71.59 L233.90,71.58 L234.40,71.58 L234.90,71.58 L235.40,71.58 L235.90,71.58 L236.40,71.57 L236.90,71.57 L237.40,71.57 L237.90,71.57 L238.40,71.57 L238.90,71.56 L239.40,71.56 L239.90,71.56 L240.40,71.56 L240.90,71.56 L241.40,71.56 L241.90,71.55 L242.40,71.55 L242.90,71.55 L243.40,71.55 L243.90,71.55 L244.40,71.55 L244.90,71.54 L245.40,71.54 L245.90,71.54 L246.40,71.54 L246.90,71.54 L247.40,71.54 L247.90,71.53 L248.40,71.53 L248.90,71.53 L249.40,71.53 L249.90,71.53 L250.40,71.53 L250.90,71.52 L251.40,71.52 L251.90,71.52 L252.40,71.52 L252.90,71.52 L253.40,71.52 L253.90,71.52 L254.40,71.51 L254.90,71.51 L255.40,71.51 L255.90,71.51 L256.40,71.51 L256.90,71.51 L257.40,71.51 L257.90,71.50 L258.40,71.50 L258.90,71.50 L259.40,71.50 L259.90,71.50 L260.40,71.50 L260.90,71.50 L261.40,71.50 L261.90,71.49 L262.40,71.49 L262.90,71.49 L263.40,71.49 L263.90,71.49 L264.40,71.49 L264.90,71.49 L265.40,71.49 L265.90,71.48 L266.40,71.48 L266.90,71.48 L267.40,71.48 L267.90,71.48 L268.40,71.48 L268.90,71.48 L269.40,71.48 L269.90,71.47 L270.40,71.47 L270.90,71.47 L271.40,71.47 L271.90,71.47 L272.40,71.47 L272.90,71.47 L273.40,71.47 L273.90,71.47 L274.40,71.46 L274.90,71.46 L275.40,71.46 L275.90,71.46 L276.40,71.46 L276.90,71.46 L277.40,71.46 L277.90,71.46 L278.40,71.45 L278.90,71.45 L279.40,71.45 L279.90,71.45 L280.40,71.45 L280.90,71.45 L281.40,71.45 L281.90,71.45 L282.40,71.44 L282.90,71.44 L283.40,71.44 L283.90,71.44 L284.40,71.44 L284.90,71.44 L285.40,71.44 L285.90,71.44 L286.40,71.44 L286.90,71.43 L287.40,71.43 L287.90,71.43 L288.40,71.43 L288.90,71.43 L289.40,71.43 L289.90,71.43 L290.40,71.43 L290.90,71.42 L291.40,71.42 L291.90,71.42 L292.40,71.42 L292.90,71.42 L293.40,71.42 L293.90,71.42 L294.40,71.42 L294.90,71.41 L295.40,71.41 L295.90,71.41 L296.40,71.41 L296.90,71.41 L297.40,71.41 L297.90,71.41 L298.40,71.40 L298.90,71.40 L299.40,71.40 L299.90,71.40 L300.40,71.40 L300.90,71.40 L301.40,71.40 L301.90,71.39 L302.40,71.39 L302.90,71.39 L303.40,71.39 L303.90,71.39 L304.40,71.39 L304.90,71.39 L305.40,71.38 L305.90,71.38 L306.40,71.38 L306.90,71.38 L307.40,71.38 L307.90,71.38 L308.40,71.38 L308.90,71.38 L309.40,71.37 L309.90,71.37 L310.40,71.37 L310.90,71.37 L311.40,71.37 L311.90,71.37 L312.40,71.37 L312.90,71.36 L313.40,71.36 L313.90,71.36 L314.40,71.36 L314.90,71.36 L315.40,71.36 L315.90,71.36 L316.40,71.35 L316.90,71.35 L317.40,71.35 L317.90,71.35 L318.40,71.35 L318.90,71.35 L319.40,71.35 L319.90,71.34 L320.40,71.34 L320.90,71.34 L321.40,71.34 L321.90,71.34 L322.40,71.34 L322.90,71.34 L323.40,71.33 L323.90,71.33 L324.40,71.33 L324.90,71.33 L325.40,71.33 L325.90,71.33 L326.40,71.33 L326.90,71.33 L327.40,71.32 L327.90,71.32 L328.40,71.32 L328.90,71.32 L329.40,71.32 L329.90,71.32 L330.40,71.32 L330.90,71.31 L331.40,71.31 L331.90,71.31 L332.40,71.31 L332.90,71.31 L333.40,71.31 L333.90,71.31 L334.40,71.30 L334.90,71.30 L335.40,71.30 L335.90,71.30 L336.00,71.30" fill="none" stroke="#5b80b5" stroke-width="1.4" stroke-linejoin="round" stroke-dasharray="1.2 1.0" stroke-dashoffset="0"/>
<path d="M70.00,98.90 L70.50,99.31 L71.00,99.72 L71.50,100.09 L72.00,100.41 L72.50,100.64 L73.00,100.82 L73.50,100.99 L74.00,101.15 L74.50,101.30 L75.00,101.44 L75.50,101.57 L76.00,101.69 L76.50,101.80 L77.00,101.91 L77.50,102.01 L78.00,102.11 L78.50,102.20 L79.00,102.29 L79.50,102.38 L80.00,102.46 L80.50,102.55 L81.00,102.64 L81.50,102.72 L82.00,102.81 L82.50,102.90 L83.00,103.00 L83.50,103.10 L84.00,103.19 L84.50,103.29 L85.00,103.38 L85.50,103.47 L86.00,103.56 L86.50,103.65 L87.00,103.74 L87.50,103.83 L88.00,103.92 L88.50,104.00 L89.00,104.09 L89.50,104.17 L90.00,104.25 L90.50,104.34 L91.00,104.42 L91.50,104.50 L92.00,104.58 L92.50,104.66 L93.00,104.74 L93.50,104.82 L94.00,104.90 L94.50,104.98 L95.00,105.06 L95.50,105.13 L96.00,105.21 L96.50,105.28 L97.00,105.36 L97.50,105.43 L98.00,105.51 L98.50,105.58 L99.00,105.65 L99.50,105.72 L100.00,105.80 L100.50,105.87 L101.00,105.94 L101.50,106.01 L102.00,106.08 L102.50,106.15 L103.00,106.22 L103.50,106.29 L104.00,106.36 L104.50,106.43 L105.00,106.50 L105.50,106.57 L106.00,106.64 L106.50,106.72 L107.00,106.79 L107.50,106.87 L108.00,106.94 L108.50,107.02 L109.00,107.10 L109.50,107.17 L110.00,107.25 L110.50,107.33 L111.00,107.40 L111.50,107.48 L112.00,107.55 L112.50,107.62 L113.00,107.69 L113.50,107.76 L114.00,107.82 L114.50,107.88 L115.00,107.94 L115.50,108.00 L116.00,108.05 L116.50,108.09 L117.00,108.13 L117.50,108.17 L118.00,108.21 L118.50,108.25 L119.00,108.28 L119.50,108.32 L120.00,108.35 L120.50,108.38 L121.00,108.41 L121.50,108.44 L122.00,108.47 L122.50,108.50 L123.00,108.53 L123.50,108.55 L124.00,108.58 L124.50,108.61 L125.00,108.64 L125.50,108.66 L126.00,108.69 L126.50,108.72 L127.00,108.75 L127.50,108.78 L128.00,108.81 L128.50,108.84 L129.00,108.87 L129.50,108.90 L130.00,108.93 L130.50,108.96 L131.00,108.99 L131.50,109.01 L132.00,109.04 L132.50,109.07 L133.00,109.10 L133.50,109.13 L134.00,109.16 L134.50,109.19 L135.00,109.22 L135.50,109.25 L136.00,109.28 L136.40,109.30 L136.90,108.50 L137.40,107.63 L137.90,106.70 L138.40,105.68 L138.90,104.56 L139.40,103.38 L139.90,102.16 L140.40,100.93 L140.90,99.73 L141.40,98.55 L141.90,97.33 L142.40,96.11 L142.90,94.91 L143.40,93.76 L143.90,92.70 L144.40,91.72 L144.90,90.77 L145.40,89.90 L145.90,89.14 L146.40,88.49 L146.90,87.93 L147.40,87.41 L147.90,86.93 L148.40,86.46 L148.90,85.96 L149.40,85.42 L149.90,84.79 L150.40,84.08 L150.90,83.35 L151.40,82.66 L151.90,82.09 L152.40,81.65 L152.90,81.25 L153.40,80.90 L153.90,80.64 L154.40,80.46 L154.90,80.31 L155.40,80.18 L155.90,80.07 L156.40,79.97 L156.90,79.87 L157.40,79.76 L157.90,79.63 L158.40,79.48 L158.90,79.31 L159.40,79.13 L159.90,78.94 L160.40,78.75 L160.90,78.57 L161.40,78.39 L161.90,78.23 L162.40,78.08 L162.90,77.93 L163.40,77.78 L163.90,77.64 L164.40,77.50 L164.90,77.37 L165.40,77.24 L165.90,77.13 L166.40,77.02 L166.90,76.92 L167.40,76.83 L167.90,76.75 L168.40,76.67 L168.90,76.59 L169.40,76.52 L169.90,76.46 L170.40,76.39 L170.90,76.33 L171.40,76.27 L171.90,76.21 L172.40,76.15 L172.90,76.09 L173.40,76.03 L173.90,75.98 L174.40,75.92 L174.90,75.86 L175.40,75.81 L175.90,75.76 L176.40,75.71 L176.90,75.67 L177.40,75.64 L177.90,75.61 L178.40,75.58 L178.90,75.55 L179.40,75.53 L179.90,75.51 L180.40,75.49 L180.90,75.47 L181.40,75.45 L181.90,75.43 L182.40,75.42 L182.90,75.40 L183.40,75.39 L183.90,75.37 L184.40,75.36 L184.90,75.34 L185.40,75.33 L185.90,75.32 L186.40,75.30 L186.90,75.29 L187.40,75.28 L187.90,75.26 L188.40,75.25 L188.90,75.23 L189.40,75.22 L189.90,75.20 L190.40,75.19 L190.90,75.17 L191.40,75.15 L191.90,75.14 L192.40,75.12 L192.90,75.11 L193.40,75.09 L193.90,75.07 L194.40,75.06 L194.90,75.04 L195.40,75.03 L195.90,75.01 L196.40,75.00 L196.90,74.98 L197.40,74.96 L197.90,74.95 L198.40,74.93 L198.90,74.92 L199.40,74.90 L199.90,74.89 L200.40,74.87 L200.90,74.86 L201.40,74.84 L201.90,74.82 L202.40,74.81 L202.70,74.80 L203.20,83.80" fill="none" stroke="#0d0df5" stroke-width="2.0" stroke-linejoin="round" stroke-dasharray="5.7 5.6" stroke-dashoffset="0.4"/>
<path d="M203.20,83.80 L203.70,83.78 L204.20,83.76 L204.70,83.75 L205.20,83.73 L205.70,83.72 L206.20,83.70 L206.70,83.69 L207.20,83.68 L207.70,83.67 L208.20,83.66 L208.70,83.65 L209.20,83.64 L209.70,83.63 L210.20,83.62 L210.70,83.62 L211.20,83.61 L211.70,83.61 L212.20,83.60 L212.70,83.60 L213.20,83.60 L213.70,83.60 L214.20,83.60 L214.70,83.60 L215.20,83.61 L215.70,83.61 L216.20,83.62 L216.70,83.63 L217.20,83.63 L217.70,83.65 L218.20,83.66 L218.70,83.67 L219.20,83.68 L219.70,83.70 L220.20,83.71 L220.70,83.73 L221.20,83.75 L221.70,83.77 L222.20,83.79 L222.70,83.81 L223.20,83.83 L223.70,83.85 L224.20,83.87 L224.70,83.90 L225.20,83.92 L225.70,83.94 L226.20,83.97 L226.70,83.99 L227.20,84.02 L227.70,84.04 L228.20,84.07 L228.70,84.09 L229.20,84.12 L229.70,84.15 L230.20,84.17 L230.70,84.20 L231.20,84.22 L231.70,84.25 L232.20,84.27 L232.70,84.30 L233.20,84.32 L233.70,84.35 L234.20,84.37 L234.70,84.40 L235.20,84.42 L235.70,84.44 L236.20,84.47 L236.70,84.49 L237.20,84.51 L237.70,84.53 L238.20,84.55 L238.70,84.57 L239.20,84.59 L239.70,84.62 L240.20,84.64 L240.70,84.66 L241.20,84.68 L241.70,84.71 L242.20,84.73 L242.70,84.75 L243.20,84.78 L243.70,84.80 L244.20,84.82 L244.70,84.85 L245.20,84.87 L245.70,84.89 L246.20,84.92 L246.70,84.94 L247.20,84.97 L247.70,84.99 L248.20,85.01 L248.70,85.04 L249.20,85.06 L249.70,85.09 L250.20,85.11 L250.70,85.14 L251.20,85.16 L251.70,85.19 L252.20,85.21 L252.70,85.23 L253.20,85.26 L253.70,85.28 L254.20,85.31 L254.70,85.33 L255.20,85.36 L255.70,85.38 L256.20,85.40 L256.70,85.43 L257.20,85.45 L257.70,85.48 L258.20,85.50 L258.70,85.52 L259.20,85.55 L259.70,85.57 L260.20,85.59 L260.70,85.62 L261.20,85.64 L261.70,85.66 L262.20,85.68 L262.70,85.71 L263.20,85.73 L263.70,85.75 L264.20,85.77 L264.70,85.79 L265.20,85.81 L265.70,85.83 L266.20,85.85 L266.70,85.87 L267.20,85.89 L267.70,85.91 L268.20,85.93 L268.70,85.95 L269.20,85.97 L269.70,85.99 L270.20,86.01 L270.70,86.03 L271.20,86.04 L271.70,86.06 L272.20,86.08 L272.70,86.10 L273.20,86.11 L273.70,86.13 L274.20,86.15 L274.70,86.16 L275.20,86.18 L275.70,86.20 L276.20,86.21 L276.70,86.23 L277.20,86.24 L277.70,86.26 L278.20,86.28 L278.70,86.29 L279.20,86.31 L279.70,86.32 L280.20,86.34 L280.70,86.35 L281.20,86.37 L281.70,86.38 L282.20,86.40 L282.70,86.41 L283.20,86.43 L283.70,86.44 L284.20,86.46 L284.70,86.47 L285.20,86.49 L285.70,86.50 L286.20,86.52 L286.70,86.53 L287.20,86.55 L287.70,86.56 L288.20,86.57 L288.70,86.59 L289.20,86.60 L289.70,86.62 L290.20,86.63 L290.70,86.64 L291.20,86.66 L291.70,86.67 L292.20,86.69 L292.70,86.70 L293.20,86.71 L293.70,86.73 L294.20,86.74 L294.70,86.76 L295.20,86.77 L295.70,86.78 L296.20,86.80 L296.70,86.81 L297.20,86.82 L297.70,86.84 L298.20,86.85 L298.70,86.86 L299.20,86.88 L299.70,86.89 L300.20,86.91 L300.70,86.92 L301.20,86.93 L301.70,86.95 L302.20,86.96 L302.70,86.97 L303.20,86.99 L303.70,87.00 L304.20,87.01 L304.70,87.03 L305.20,87.04 L305.70,87.05 L306.20,87.07 L306.70,87.08 L307.20,87.09 L307.70,87.11 L308.20,87.12 L308.70,87.13 L309.20,87.15 L309.70,87.16 L310.20,87.17 L310.70,87.19 L311.20,87.20 L311.70,87.21 L312.20,87.22 L312.70,87.24 L313.20,87.25 L313.70,87.26 L314.20,87.28 L314.70,87.29 L315.20,87.30 L315.70,87.31 L316.20,87.33 L316.70,87.34 L317.20,87.35 L317.70,87.37 L318.20,87.38 L318.70,87.39 L319.20,87.40 L319.70,87.42 L320.20,87.43 L320.70,87.44 L321.20,87.45 L321.70,87.46 L322.20,87.48 L322.70,87.49 L323.20,87.50 L323.70,87.51 L324.20,87.53 L324.70,87.54 L325.20,87.55 L325.70,87.56 L326.20,87.57 L326.70,87.59 L327.20,87.60 L327.70,87.61 L328.20,87.62 L328.70,87.63 L329.20,87.64 L329.70,87.66 L330.20,87.67 L330.70,87.68 L331.20,87.69 L331.70,87.70 L332.20,87.71 L332.70,87.73 L333.20,87.74 L333.70,87.75 L334.20,87.76 L334.70,87.77 L335.20,87.78 L335.70,87.79 L336.00,87.80" fill="none" stroke="#0d0df5" stroke-width="1.7" stroke-linejoin="round" stroke-dasharray="5.7 5.6" stroke-dashoffset="2.5"/>
<path d="M70.00,100.30 L70.50,100.54 L71.00,100.77 L71.50,100.99 L72.00,101.21 L72.50,101.41 L73.00,101.61 L73.50,101.80 L74.00,101.98 L74.50,102.14 L75.00,102.30 L75.50,102.45 L76.00,102.58 L76.50,102.71 L77.00,102.83 L77.50,102.95 L78.00,103.06 L78.50,103.17 L79.00,103.28 L79.50,103.39 L80.00,103.50 L80.50,103.61 L81.00,103.71 L81.50,103.81 L82.00,103.91 L82.50,104.01 L83.00,104.11 L83.50,104.21 L84.00,104.30 L84.50,104.40 L85.00,104.50 L85.50,104.60 L86.00,104.70 L86.50,104.81 L87.00,104.91 L87.50,105.01 L88.00,105.11 L88.50,105.21 L89.00,105.30 L89.50,105.39 L90.00,105.48 L90.50,105.57 L91.00,105.65 L91.50,105.74 L92.00,105.82 L92.50,105.91 L93.00,105.99 L93.50,106.07 L94.00,106.15 L94.50,106.23 L95.00,106.31 L95.50,106.39 L96.00,106.47 L96.50,106.55 L97.00,106.63 L97.50,106.70 L98.00,106.78 L98.50,106.86 L99.00,106.94 L99.50,107.02 L100.00,107.09 L100.50,107.17 L101.00,107.25 L101.50,107.33 L102.00,107.41 L102.50,107.48 L103.00,107.56 L103.50,107.64 L104.00,107.71 L104.50,107.79 L105.00,107.86 L105.50,107.94 L106.00,108.01 L106.50,108.09 L107.00,108.16 L107.50,108.23 L108.00,108.30 L108.50,108.37 L109.00,108.44 L109.50,108.51 L110.00,108.58 L110.50,108.65 L111.00,108.72 L111.50,108.79 L112.00,108.86 L112.50,108.92 L113.00,108.99 L113.50,109.06 L114.00,109.13 L114.50,109.20 L115.00,109.26 L115.50,109.33 L116.00,109.39 L116.50,109.46 L117.00,109.52 L117.50,109.58 L118.00,109.65 L118.50,109.71 L119.00,109.77 L119.50,109.83 L120.00,109.89 L120.50,109.95 L121.00,110.00 L121.50,110.06 L122.00,110.11 L122.50,110.17 L123.00,110.22 L123.50,110.27 L124.00,110.32 L124.50,110.38 L125.00,110.43 L125.50,110.48 L126.00,110.53 L126.50,110.58 L127.00,110.62 L127.50,110.67 L128.00,110.72 L128.50,110.77 L129.00,110.81 L129.50,110.86 L130.00,110.90 L130.50,110.95 L131.00,110.99 L131.50,111.03 L132.00,111.07 L132.50,111.12 L133.00,111.16 L133.50,111.20 L134.00,111.24 L134.50,111.27 L135.00,111.31 L135.50,111.35 L136.00,111.39 L136.20,111.40 L136.70,110.62 L137.20,109.75 L137.70,108.81 L138.20,107.79 L138.70,106.66 L139.20,105.43 L139.70,104.12 L140.20,102.77 L140.70,101.38 L141.20,100.00 L141.70,98.58 L142.20,97.09 L142.70,95.57 L143.20,94.04 L143.70,92.55 L144.20,91.12 L144.70,89.77 L145.20,88.46 L145.70,87.25 L146.20,86.20 L146.70,85.24 L147.20,84.37 L147.70,83.60 L148.20,82.95 L148.70,82.36 L149.20,81.84 L149.70,81.41 L150.20,81.08 L150.70,80.82 L151.20,80.60 L151.70,80.40 L152.20,80.23 L152.70,80.08 L153.20,79.94 L153.70,79.81 L154.20,79.69 L154.70,79.57 L155.20,79.46 L155.70,79.35 L156.20,79.25 L156.70,79.15 L157.20,79.06 L157.70,78.96 L158.20,78.86 L158.70,78.75 L159.20,78.65 L159.70,78.54 L160.20,78.43 L160.70,78.33 L161.20,78.23 L161.70,78.14 L162.20,78.07 L162.70,78.00 L163.20,77.94 L163.70,77.87 L164.20,77.81 L164.70,77.75 L165.20,77.70 L165.70,77.64 L166.20,77.59 L166.70,77.54 L167.20,77.49 L167.70,77.44 L168.20,77.39 L168.70,77.35 L169.20,77.30 L169.70,77.26 L170.20,77.21 L170.70,77.17 L171.20,77.13 L171.70,77.09 L172.20,77.05 L172.70,77.01 L173.20,76.97 L173.70,76.92 L174.20,76.88 L174.70,76.84 L175.20,76.80 L175.70,76.76 L176.20,76.73 L176.70,76.69 L177.20,76.65 L177.70,76.61 L178.20,76.58 L178.70,76.54 L179.20,76.51 L179.70,76.47 L180.20,76.44 L180.70,76.40 L181.20,76.37 L181.70,76.34 L182.20,76.31 L182.70,76.28 L183.20,76.25 L183.70,76.22 L184.20,76.19 L184.70,76.16 L185.20,76.13 L185.70,76.10 L186.20,76.07 L186.70,76.05 L187.20,76.02 L187.70,75.99 L188.20,75.96 L188.70,75.93 L189.20,75.91 L189.70,75.88 L190.20,75.85 L190.70,75.83 L191.20,75.80 L191.70,75.77 L192.20,75.75 L192.70,75.72 L193.20,75.70 L193.70,75.67 L194.20,75.65 L194.70,75.63 L195.20,75.60 L195.70,75.58 L196.20,75.56 L196.70,75.53 L197.20,75.51 L197.70,75.49 L198.20,75.47 L198.70,75.45 L199.20,75.43 L199.70,75.41 L200.20,75.39 L200.70,75.37 L201.20,75.35 L201.70,75.33 L202.20,75.31 L202.60,75.30 L203.00,147.60 L203.50,152.52 L204.00,157.72 L204.50,163.18 L205.00,168.87 L205.50,174.77 L206.00,180.86 L206.50,187.11 L207.00,193.50 L207.50,200.00 L208.00,207.47 L208.50,214.60 L209.00,219.64 L209.50,223.63 L210.00,225.75 L210.50,227.16 L211.00,228.27 L211.50,229.16 L212.00,229.88 L212.50,230.49 L213.00,231.03 L213.50,231.53 L214.00,231.99 L214.50,232.41 L215.00,232.79 L215.50,233.13 L216.00,233.44 L216.50,233.71 L217.00,233.96 L217.50,234.19 L218.00,234.41 L218.50,234.63 L219.00,234.85 L219.50,235.05 L220.00,235.25 L220.50,235.43 L221.00,235.59 L221.50,235.73 L222.00,235.84 L222.50,235.93 L223.00,235.98 L223.50,236.00 L224.00,236.00 L224.50,235.99 L225.00,235.99 L225.50,235.98 L226.00,235.96 L226.50,235.95 L227.00,235.93 L227.50,235.91 L228.00,235.89 L228.50,235.86 L229.00,235.84 L229.50,235.81 L230.00,235.78 L230.50,235.75 L231.00,235.72 L231.50,235.69 L232.00,235.66 L232.50,235.61 L233.00,235.55 L233.50,235.49 L234.00,235.41 L234.50,235.33 L235.00,235.25 L235.50,235.16 L236.00,235.08 L236.50,234.98 L237.00,234.89 L237.50,234.80 L238.00,234.71 L238.50,234.62 L239.00,234.53 L239.50,234.45 L240.00,234.37 L240.50,234.28 L241.00,234.20 L241.50,234.11 L242.00,234.02 L242.50,233.93 L243.00,233.84 L243.50,233.75 L244.00,233.66 L244.50,233.57 L245.00,233.48 L245.50,233.39 L246.00,233.30 L246.50,233.21 L247.00,233.12 L247.50,233.03 L248.00,232.94 L248.50,232.86 L249.00,232.77 L249.50,232.68 L250.00,232.60 L250.50,232.52 L251.00,232.43 L251.50,232.35 L252.00,232.26 L252.50,232.18 L253.00,232.09 L253.50,232.01 L254.00,231.92 L254.50,231.84 L255.00,231.75 L255.50,231.67 L256.00,231.59 L256.50,231.50 L257.00,231.42 L257.50,231.34 L258.00,231.25 L258.50,231.17 L259.00,231.09 L259.50,231.01 L260.00,230.93 L260.50,230.85 L261.00,230.77 L261.50,230.69 L262.00,230.62 L262.50,230.54 L263.00,230.47 L263.50,230.39 L264.00,230.32 L264.50,230.25 L265.00,230.18 L265.50,230.11 L266.00,230.04 L266.50,229.98 L267.00,229.91 L267.50,229.85 L268.00,229.79 L268.50,229.73 L269.00,229.66 L269.50,229.60 L270.00,229.54 L270.50,229.48 L271.00,229.42 L271.50,229.37 L272.00,229.31 L272.50,229.25 L273.00,229.19 L273.50,229.14 L274.00,229.08 L274.50,229.03 L275.00,228.97 L275.50,228.92 L276.00,228.86 L276.50,228.81 L277.00,228.75 L277.50,228.70 L278.00,228.65 L278.50,228.60 L279.00,228.55 L279.50,228.49 L280.00,228.44 L280.50,228.39 L281.00,228.34 L281.50,228.29 L282.00,228.24 L282.50,228.19 L283.00,228.14 L283.50,228.10 L284.00,228.05 L284.50,228.00 L285.00,227.95 L285.50,227.90 L286.00,227.86 L286.50,227.81 L287.00,227.76 L287.50,227.72 L288.00,227.67 L288.50,227.62 L289.00,227.58 L289.50,227.53 L290.00,227.49 L290.50,227.44 L291.00,227.39 L291.50,227.35 L292.00,227.30 L292.50,227.26 L293.00,227.21 L293.50,227.17 L294.00,227.12 L294.50,227.08 L295.00,227.04 L295.50,226.99 L296.00,226.95 L296.50,226.90 L297.00,226.86 L297.50,226.81 L298.00,226.77 L298.50,226.73 L299.00,226.68 L299.50,226.64 L300.00,226.60 L300.50,226.56 L301.00,226.51 L301.50,226.47 L302.00,226.43 L302.50,226.39 L303.00,226.35 L303.50,226.31 L304.00,226.27 L304.50,226.23 L305.00,226.19 L305.50,226.15 L306.00,226.11 L306.50,226.07 L307.00,226.03 L307.50,225.99 L308.00,225.95 L308.50,225.91 L309.00,225.87 L309.50,225.84 L310.00,225.80 L310.50,225.76 L311.00,225.73 L311.50,225.69 L312.00,225.65 L312.50,225.62 L313.00,225.58 L313.50,225.55 L314.00,225.51 L314.50,225.48 L315.00,225.45 L315.50,225.41 L316.00,225.38 L316.50,225.34 L317.00,225.31 L317.50,225.28 L318.00,225.24 L318.50,225.21 L319.00,225.18 L319.50,225.15 L320.00,225.11 L320.50,225.08 L321.00,225.05 L321.50,225.02 L322.00,224.99 L322.50,224.96 L323.00,224.92 L323.50,224.89 L324.00,224.86 L324.50,224.83 L325.00,224.80 L325.50,224.77 L326.00,224.74 L326.50,224.71 L327.00,224.68 L327.50,224.65 L328.00,224.63 L328.50,224.60 L329.00,224.57 L329.50,224.54 L330.00,224.51 L330.50,224.49 L331.00,224.46 L331.50,224.43 L332.00,224.40 L332.50,224.38 L333.00,224.35 L333.50,224.33 L334.00,224.30 L334.50,224.27 L335.00,224.25 L335.50,224.22 L336.00,224.20" fill="none" stroke="#1f3462" stroke-width="1.5" stroke-linejoin="round"/>
<path d="M352.50,94.40 L353.00,94.59 L353.50,94.77 L354.00,94.95 L354.50,95.12 L355.00,95.28 L355.50,95.44 L356.00,95.59 L356.50,95.73 L357.00,95.87 L357.50,95.99 L358.00,96.10 L358.50,96.20 L359.00,96.30 L359.50,96.38 L360.00,96.47 L360.50,96.54 L361.00,96.62 L361.50,96.69 L362.00,96.76 L362.50,96.83 L363.00,96.90 L363.50,96.97 L364.00,97.04 L364.50,97.12 L365.00,97.20 L365.50,97.28 L366.00,97.36 L366.50,97.45 L367.00,97.53 L367.50,97.61 L368.00,97.69 L368.50,97.78 L369.00,97.86 L369.50,97.95 L370.00,98.04 L370.50,98.12 L371.00,98.21 L371.50,98.31 L372.00,98.40 L372.50,98.50 L373.00,98.60 L373.50,98.71 L374.00,98.81 L374.50,98.93 L375.00,99.04 L375.50,99.15 L376.00,99.27 L376.50,99.38 L377.00,99.50 L377.50,99.61 L378.00,99.71 L378.50,99.82 L379.00,99.92 L379.50,100.01 L380.00,100.10 L380.50,100.18 L381.00,100.27 L381.50,100.34 L382.00,100.42 L382.50,100.50 L383.00,100.57 L383.50,100.64 L384.00,100.71 L384.50,100.78 L385.00,100.85 L385.50,100.92 L386.00,100.98 L386.50,101.05 L387.00,101.11 L387.50,101.18 L388.00,101.24 L388.50,101.31 L389.00,101.37 L389.50,101.44 L390.00,101.50 L390.50,101.56 L391.00,101.63 L391.50,101.69 L392.00,101.75 L392.50,101.82 L393.00,101.88 L393.50,101.94 L394.00,102.00 L394.50,102.06 L395.00,102.12 L395.50,102.18 L396.00,102.24 L396.50,102.30 L397.00,102.35 L397.50,102.41 L398.00,102.47 L398.50,102.53 L399.00,102.59 L399.50,102.64 L400.00,102.70 L400.50,102.76 L401.00,102.81 L401.50,102.87 L402.00,102.92 L402.50,102.97 L403.00,103.03 L403.50,103.08 L404.00,103.13 L404.50,103.18 L405.00,103.24 L405.50,103.29 L406.00,103.34 L406.50,103.40 L407.00,103.45 L407.50,103.51 L408.00,103.56 L408.50,103.62 L409.00,103.68 L409.50,103.74 L410.00,103.80 L410.50,103.86 L411.00,103.93 L411.50,103.99 L412.00,104.06 L412.50,104.13 L413.00,104.20 L413.50,104.27 L414.00,104.34 L414.50,104.41 L415.00,104.48 L415.50,104.56 L416.00,104.63 L416.50,104.71 L417.00,104.78 L417.50,104.86 L418.00,104.94 L418.50,105.02 L419.00,105.10 L419.50,105.80 L420.00,106.20 L420.50,106.20 L421.00,106.20 L421.50,106.19 L422.00,106.19 L422.50,106.18 L423.00,106.17 L423.50,106.16 L424.00,106.15 L424.50,106.14 L425.00,106.13 L425.50,106.12 L426.00,106.10 L426.50,106.09 L427.00,106.07 L427.50,106.06 L428.00,106.04 L428.50,106.02 L429.00,106.00 L429.50,105.99 L430.00,105.97 L430.50,105.95 L431.00,105.93 L431.50,105.92 L432.00,105.90 L432.50,105.88 L433.00,105.86 L433.50,105.85 L434.00,105.83 L434.50,105.82 L435.00,105.80 L435.50,105.78 L436.00,105.77 L436.50,105.75 L437.00,105.73 L437.50,105.71 L438.00,105.69 L438.50,105.67 L439.00,105.65 L439.50,105.63 L440.00,105.60 L440.50,105.58 L441.00,105.56 L441.50,105.54 L442.00,105.52 L442.50,105.49 L443.00,105.47 L443.50,105.45 L444.00,105.43 L444.50,105.41 L445.00,105.40 L445.50,105.38 L446.00,105.36 L446.50,105.35 L447.00,105.34 L447.50,105.33 L448.00,105.32 L448.50,105.31 L449.00,105.30 L449.50,105.30 L450.00,105.30 L450.50,105.30 L451.00,105.30 L451.50,105.31 L452.00,105.32 L452.50,105.33 L453.00,105.34 L453.50,105.35 L454.00,105.36 L454.50,105.38 L455.00,105.40 L455.50,105.42 L456.00,105.44 L456.50,105.46 L457.00,105.48 L457.50,105.51 L458.00,105.53 L458.50,105.56 L459.00,105.59 L459.50,105.62 L460.00,105.65 L460.50,105.68 L461.00,105.71 L461.50,105.74 L462.00,105.77 L462.50,105.80 L463.00,105.84 L463.50,105.87 L464.00,105.90 L464.50,105.94 L465.00,105.97 L465.50,106.01 L466.00,106.04 L466.50,106.07 L467.00,106.11 L467.50,106.14 L468.00,106.17 L468.50,106.21 L469.00,106.24 L469.50,106.27 L470.00,106.30 L470.50,106.33 L471.00,106.36 L471.50,106.39 L472.00,106.43 L472.50,106.46 L473.00,106.50 L473.50,106.53 L474.00,106.57 L474.50,106.60 L475.00,106.64 L475.50,106.67 L476.00,106.71 L476.50,106.75 L477.00,106.79 L477.50,106.83 L478.00,106.87 L478.50,106.90 L479.00,106.95 L479.50,106.99 L480.00,107.03 L480.50,107.07 L481.00,107.11 L481.50,107.15 L482.00,107.19 L482.50,107.24 L483.00,107.28 L483.50,107.32 L484.00,107.37 L484.50,107.41 L485.00,107.46 L485.50,107.50 L485.50,107.40 L486.00,104.96 L486.50,103.00 L487.00,101.56 L487.50,100.34 L488.00,99.28 L488.50,98.29 L489.00,97.33 L489.50,96.44 L490.00,95.60 L490.50,94.80 L491.00,94.01 L491.50,93.20 L492.00,92.37 L492.50,91.52 L493.00,90.69 L493.50,89.87 L494.00,89.09 L494.50,88.36 L495.00,87.65 L495.50,86.95 L496.00,86.28 L496.50,85.63 L497.00,85.01 L497.50,84.43 L498.00,83.90 L498.50,83.41 L499.00,82.92 L499.50,82.46 L500.00,82.01 L500.50,81.59 L501.00,81.19 L501.50,80.82 L502.00,80.48 L502.50,80.17 L503.00,79.89 L503.50,79.64 L504.00,79.41 L504.50,79.20 L505.00,78.99 L505.50,78.80 L506.00,78.62 L506.50,78.44 L507.00,78.27 L507.50,78.10 L508.00,77.93 L508.50,77.76 L509.00,77.59 L509.50,77.43 L510.00,77.27 L510.50,77.12 L511.00,76.99 L511.50,76.86 L512.00,76.74 L512.50,76.64 L513.00,76.54 L513.50,76.45 L514.00,76.36 L514.50,76.28 L515.00,76.20 L515.50,76.12 L516.00,76.05 L516.50,75.97 L517.00,75.90 L517.50,75.84 L518.00,75.77 L518.50,75.71 L519.00,75.64 L519.50,75.58 L520.00,75.52 L520.50,75.45 L521.00,75.39 L521.50,75.33 L522.00,75.26 L522.50,75.20 L523.00,75.13 L523.50,75.07 L524.00,75.00 L524.50,74.94 L525.00,74.87 L525.50,74.81 L526.00,74.75 L526.50,74.69 L527.00,74.63 L527.50,74.57 L528.00,74.51 L528.50,74.46 L529.00,74.41 L529.50,74.35 L530.00,74.30 L530.50,74.25 L531.00,74.21 L531.50,74.16 L532.00,74.12 L532.50,74.08 L533.00,74.04 L533.50,74.00 L534.00,73.96 L534.50,73.92 L535.00,73.88 L535.50,73.84 L536.00,73.80 L536.50,73.77 L537.00,73.73 L537.50,73.70 L538.00,73.66 L538.50,73.63 L539.00,73.60 L539.50,73.57 L540.00,73.53 L540.50,73.50 L541.00,73.48 L541.50,73.45 L542.00,73.42 L542.50,73.39 L543.00,73.37 L543.50,73.34 L544.00,73.32 L544.50,73.29 L545.00,73.27 L545.50,73.25 L546.00,73.22 L546.50,73.20 L547.00,73.18 L547.50,73.16 L548.00,73.13 L548.50,73.11 L549.00,73.09 L549.50,73.07 L550.00,73.05 L550.50,73.03 L551.00,73.01 L551.50,72.99 L552.00,72.97 L552.50,72.95 L553.00,72.94 L553.50,72.92 L554.00,72.90 L554.50,72.88 L555.00,72.86 L555.50,72.85 L556.00,72.83 L556.50,72.81 L557.00,72.80 L557.50,72.78 L558.00,72.76 L558.50,72.75 L559.00,72.73 L559.50,72.72 L560.00,72.70 L560.50,72.68 L561.00,72.67 L561.50,72.66 L562.00,72.64 L562.50,72.63 L563.00,72.61 L563.50,72.60 L564.00,72.59 L564.50,72.57 L565.00,72.56 L565.50,72.55 L566.00,72.53 L566.50,72.52 L567.00,72.51 L567.50,72.50 L568.00,72.49 L568.50,72.47 L569.00,72.46 L569.50,72.45 L570.00,72.44 L570.50,72.43 L571.00,72.42 L571.50,72.40 L572.00,72.39 L572.50,72.38 L573.00,72.37 L573.50,72.36 L574.00,72.35 L574.50,72.34 L575.00,72.32 L575.50,72.31 L576.00,72.30 L576.50,72.29 L577.00,72.28 L577.50,72.26 L578.00,72.25 L578.50,72.24 L579.00,72.23 L579.50,72.21 L580.00,72.20 L580.50,72.19 L581.00,72.17 L581.50,72.16 L582.00,72.15 L582.50,72.13 L583.00,72.12 L583.50,72.11 L584.00,72.09 L584.50,72.08 L585.00,72.07 L585.50,72.05 L586.00,72.04 L586.50,72.03 L587.00,72.01 L587.50,72.00 L588.00,71.99 L588.50,71.97 L589.00,71.96 L589.50,71.94 L590.00,71.93 L590.50,71.92 L591.00,71.90 L591.50,71.89 L592.00,71.88 L592.50,71.86 L593.00,71.85 L593.50,71.83 L594.00,71.82 L594.50,71.81 L595.00,71.79 L595.50,71.78 L596.00,71.76 L596.50,71.75 L597.00,71.74 L597.50,71.72 L598.00,71.71 L598.50,71.69 L599.00,71.68 L599.50,71.66 L600.00,71.65 L600.50,71.64 L601.00,71.62 L601.50,71.61 L602.00,71.59 L602.50,71.58 L603.00,71.56 L603.50,71.55 L604.00,71.53 L604.50,71.52 L605.00,71.51 L605.50,71.49 L606.00,71.48 L606.50,71.46 L607.00,71.45 L607.50,71.43 L608.00,71.42 L608.50,71.40 L609.00,71.39 L609.50,71.37 L610.00,71.36 L610.50,71.34 L611.00,71.33 L611.50,71.31 L612.00,71.30 L612.50,71.28 L613.00,71.27 L613.50,71.25 L614.00,71.24 L614.50,71.22 L615.00,71.21 L615.50,71.19 L616.00,71.18 L616.50,71.16 L617.00,71.15 L617.50,71.13 L618.00,71.12 L618.50,71.10" fill="none" stroke="#5b80b5" stroke-width="1.4" stroke-linejoin="round" stroke-dasharray="1.2 1.0" stroke-dashoffset="0"/>
<path d="M352.50,96.60 L353.00,96.93 L353.50,97.25 L354.00,97.55 L354.50,97.84 L355.00,98.10 L355.50,98.35 L356.00,98.58 L356.50,98.81 L357.00,99.02 L357.50,99.22 L358.00,99.40 L358.50,99.57 L359.00,99.74 L359.50,99.90 L360.00,100.06 L360.50,100.21 L361.00,100.35 L361.50,100.50 L362.00,100.63 L362.50,100.77 L363.00,100.90 L363.50,101.03 L364.00,101.15 L364.50,101.28 L365.00,101.40 L365.50,101.52 L366.00,101.64 L366.50,101.76 L367.00,101.87 L367.50,101.99 L368.00,102.10 L368.50,102.21 L369.00,102.32 L369.50,102.43 L370.00,102.54 L370.50,102.64 L371.00,102.74 L371.50,102.85 L372.00,102.95 L372.50,103.05 L373.00,103.14 L373.50,103.24 L374.00,103.33 L374.50,103.43 L375.00,103.52 L375.50,103.61 L376.00,103.70 L376.50,103.79 L377.00,103.88 L377.50,103.96 L378.00,104.05 L378.50,104.13 L379.00,104.21 L379.50,104.29 L380.00,104.37 L380.50,104.45 L381.00,104.53 L381.50,104.61 L382.00,104.69 L382.50,104.76 L383.00,104.84 L383.50,104.91 L384.00,104.98 L384.50,105.05 L385.00,105.13 L385.50,105.20 L386.00,105.26 L386.50,105.33 L387.00,105.40 L387.50,105.47 L388.00,105.53 L388.50,105.60 L389.00,105.66 L389.50,105.73 L390.00,105.79 L390.50,105.85 L391.00,105.91 L391.50,105.97 L392.00,106.03 L392.50,106.09 L393.00,106.15 L393.50,106.21 L394.00,106.27 L394.50,106.32 L395.00,106.38 L395.50,106.43 L396.00,106.49 L396.50,106.54 L397.00,106.60 L397.50,106.65 L398.00,106.70 L398.50,106.75 L399.00,106.80 L399.50,106.85 L400.00,106.90 L400.50,106.95 L401.00,107.00 L401.50,107.05 L402.00,107.10 L402.50,107.15 L403.00,107.20 L403.50,107.24 L404.00,107.29 L404.50,107.34 L405.00,107.38 L405.50,107.43 L406.00,107.47 L406.50,107.51 L407.00,107.56 L407.50,107.60 L408.00,107.64 L408.50,107.68 L409.00,107.72 L409.50,107.76 L410.00,107.80 L410.50,107.84 L411.00,107.88 L411.50,107.91 L412.00,107.95 L412.50,107.99 L413.00,108.02 L413.50,108.06 L414.00,108.09 L414.50,108.12 L415.00,108.16 L415.50,108.19 L416.00,108.22 L416.50,108.25 L417.00,108.28 L417.50,108.31 L418.00,108.34 L418.50,108.37 L419.00,108.40 L419.00,108.90 L419.30,131.40 L419.80,133.42 L420.30,135.34 L420.80,137.10 L421.30,138.67 L421.80,140.00 L422.30,141.04 L422.80,141.76 L423.30,142.35 L423.80,142.86 L424.30,143.31 L424.80,143.70 L425.30,144.04 L425.80,144.34 L426.30,144.60 L426.80,144.85 L427.30,145.08 L427.80,145.30 L428.30,145.52 L428.80,145.72 L429.30,145.92 L429.80,146.10 L430.30,146.27 L430.80,146.44 L431.30,146.59 L431.80,146.74 L432.30,146.88 L432.80,147.01 L433.30,147.13 L433.80,147.24 L434.30,147.35 L434.80,147.44 L435.30,147.54 L435.80,147.62 L436.30,147.71 L436.80,147.79 L437.30,147.87 L437.80,147.95 L438.30,148.03 L438.80,148.10 L439.30,148.18 L439.80,148.25 L440.30,148.31 L440.80,148.38 L441.30,148.44 L441.80,148.50 L442.30,148.56 L442.80,148.61 L443.30,148.66 L443.80,148.71 L444.30,148.76 L444.80,148.80 L445.30,148.84 L445.80,148.88 L446.30,148.92 L446.80,148.95 L447.30,148.98 L447.80,149.01 L448.30,149.03 L448.80,149.06 L449.30,149.08 L449.80,149.10 L450.30,149.12 L450.80,149.14 L451.30,149.16 L451.80,149.18 L452.30,149.20 L452.80,149.22 L453.30,149.24 L453.80,149.26 L454.30,149.27 L454.80,149.29 L455.30,149.30 L455.80,149.32 L456.30,149.33 L456.80,149.35 L457.30,149.36 L457.80,149.37 L458.30,149.39 L458.80,149.40 L459.30,149.41 L459.80,149.43 L460.30,149.44 L460.80,149.45 L461.30,149.46 L461.80,149.48 L462.30,149.49 L462.80,149.50 L463.30,149.51 L463.80,149.53 L464.30,149.54 L464.80,149.55 L465.30,149.57 L465.80,149.58 L466.30,149.59 L466.80,149.61 L467.30,149.62 L467.80,149.64 L468.30,149.65 L468.80,149.66 L469.30,149.67 L469.80,149.69 L470.30,149.70 L470.80,149.71 L471.30,149.72 L471.80,149.73 L472.30,149.74 L472.80,149.76 L473.30,149.77 L473.80,149.78 L474.30,149.79 L474.80,149.80 L475.30,149.81 L475.80,149.83 L476.30,149.84 L476.80,149.85 L477.30,149.86 L477.80,149.88 L478.30,149.89 L478.80,149.91 L479.30,149.92 L479.80,149.94 L480.30,149.95 L480.80,149.97 L481.30,149.99 L481.80,150.01 L482.30,150.03 L482.80,150.05 L483.30,150.08 L483.80,150.10 L484.30,150.13 L484.80,150.16 L485.30,150.19 L485.50,150.20 L486.00,149.42 L486.50,148.64 L487.00,147.86 L487.50,147.07 L488.00,146.29 L488.50,145.50 L489.00,144.71 L489.50,143.92 L490.00,143.13 L490.50,142.34 L491.00,141.55 L491.50,140.75 L492.00,139.96 L492.50,139.16 L493.00,138.36 L493.50,137.55 L494.00,136.73 L494.50,135.90 L495.00,135.08 L495.50,134.25 L496.00,133.43 L496.50,132.61 L497.00,131.81 L497.50,131.01 L498.00,130.22 L498.50,129.45 L499.00,128.70 L499.50,127.95 L500.00,127.20 L500.50,126.44 L501.00,125.70 L501.50,124.96 L502.00,124.24 L502.50,123.53 L503.00,122.84 L503.50,122.17 L504.00,121.52 L504.50,120.90 L505.00,120.31 L505.50,119.75 L506.00,119.21 L506.50,118.69 L507.00,118.18 L507.50,117.69 L508.00,117.21 L508.50,116.74 L509.00,116.29 L509.50,115.84 L510.00,115.39 L510.50,114.95 L511.00,114.52 L511.50,114.09 L512.00,113.66 L512.50,113.23 L513.00,112.79 L513.50,112.35 L514.00,111.91 L514.50,111.46 L515.00,111.01 L515.50,110.56 L516.00,110.10 L516.50,109.64 L517.00,109.19 L517.50,108.74 L518.00,108.29 L518.50,107.84 L519.00,107.41 L519.50,106.98 L520.00,106.56 L520.50,106.15 L521.00,105.75 L521.50,105.37 L522.00,104.99 L522.50,104.64 L523.00,104.30 L523.50,103.96 L524.00,103.63 L524.50,103.31 L525.00,102.99 L525.50,102.68 L526.00,102.38 L526.50,102.08 L527.00,101.78 L527.50,101.49 L528.00,101.21 L528.50,100.94 L529.00,100.67 L529.50,100.40 L530.00,100.14 L530.50,99.89 L531.00,99.64 L531.50,99.40 L532.00,99.16 L532.50,98.94 L533.00,98.71 L533.50,98.49 L534.00,98.27 L534.50,98.05 L535.00,97.84 L535.50,97.63 L536.00,97.42 L536.50,97.22 L537.00,97.02 L537.50,96.82 L538.00,96.63 L538.50,96.44 L539.00,96.26 L539.50,96.09 L540.00,95.92 L540.50,95.76 L541.00,95.60 L541.50,95.45 L542.00,95.31 L542.50,95.18 L543.00,95.05 L543.50,94.93 L544.00,94.81 L544.50,94.70 L545.00,94.59 L545.50,94.49 L546.00,94.39 L546.50,94.29 L547.00,94.20 L547.50,94.11 L548.00,94.02 L548.50,93.94 L549.00,93.86 L549.50,93.78 L550.00,93.70 L550.50,93.62 L551.00,93.55 L551.50,93.47 L552.00,93.40 L552.50,93.33 L553.00,93.25 L553.50,93.18 L554.00,93.11 L554.50,93.04 L555.00,92.98 L555.50,92.91 L556.00,92.85 L556.50,92.78 L557.00,92.72 L557.50,92.66 L558.00,92.60 L558.50,92.54 L559.00,92.48 L559.50,92.43 L560.00,92.37 L560.50,92.32 L561.00,92.27 L561.50,92.22 L562.00,92.17 L562.50,92.12 L563.00,92.08 L563.50,92.03 L564.00,91.99 L564.50,91.95 L565.00,91.91 L565.50,91.87 L566.00,91.83 L566.50,91.80 L567.00,91.76 L567.50,91.72 L568.00,91.69 L568.50,91.65 L569.00,91.61 L569.50,91.58 L570.00,91.55 L570.50,91.51 L571.00,91.48 L571.50,91.45 L572.00,91.42 L572.50,91.39 L573.00,91.35 L573.50,91.32 L574.00,91.30 L574.50,91.27 L575.00,91.24 L575.50,91.21 L576.00,91.18 L576.50,91.15 L577.00,91.13 L577.50,91.10 L578.00,91.08 L578.50,91.05 L579.00,91.03 L579.50,91.00 L580.00,90.98 L580.50,90.95 L581.00,90.93 L581.50,90.91 L582.00,90.89 L582.50,90.86 L583.00,90.84 L583.50,90.82 L584.00,90.80 L584.50,90.78 L585.00,90.76 L585.50,90.74 L586.00,90.72 L586.50,90.70 L587.00,90.68 L587.50,90.65 L588.00,90.63 L588.50,90.61 L589.00,90.59 L589.50,90.57 L590.00,90.55 L590.50,90.53 L591.00,90.52 L591.50,90.50 L592.00,90.48 L592.50,90.46 L593.00,90.44 L593.50,90.42 L594.00,90.41 L594.50,90.39 L595.00,90.37 L595.50,90.36 L596.00,90.34 L596.50,90.33 L597.00,90.31 L597.50,90.30 L598.00,90.29 L598.50,90.27 L599.00,90.26 L599.50,90.25 L600.00,90.24 L600.50,90.23 L601.00,90.22 L601.50,90.22 L602.00,90.21 L602.50,90.20 L603.00,90.20 L603.50,90.19 L604.00,90.19 L604.50,90.18 L605.00,90.18 L605.50,90.17 L606.00,90.17 L606.50,90.16 L607.00,90.16 L607.50,90.15 L608.00,90.15 L608.50,90.15 L609.00,90.14 L609.50,90.14 L610.00,90.13 L610.50,90.13 L611.00,90.13 L611.50,90.12 L612.00,90.12 L612.50,90.12 L613.00,90.12 L613.50,90.11 L614.00,90.11 L614.50,90.11 L615.00,90.11 L615.50,90.10 L616.00,90.10 L616.50,90.10 L617.00,90.10 L617.50,90.10 L618.00,90.10 L618.50,90.10" fill="none" stroke="#0d0df5" stroke-width="1.9" stroke-linejoin="round" stroke-dasharray="5.7 5.6" stroke-dashoffset="1.8"/>
<path d="M352.50,97.40 L353.00,97.80 L353.50,98.19 L354.00,98.56 L354.50,98.91 L355.00,99.23 L355.50,99.53 L356.00,99.80 L356.50,100.05 L357.00,100.28 L357.50,100.49 L358.00,100.70 L358.50,100.89 L359.00,101.07 L359.50,101.24 L360.00,101.40 L360.50,101.55 L361.00,101.70 L361.50,101.84 L362.00,101.98 L362.50,102.11 L363.00,102.23 L363.50,102.35 L364.00,102.47 L364.50,102.59 L365.00,102.70 L365.50,102.81 L366.00,102.92 L366.50,103.02 L367.00,103.12 L367.50,103.22 L368.00,103.32 L368.50,103.41 L369.00,103.51 L369.50,103.60 L370.00,103.70 L370.50,103.80 L371.00,103.89 L371.50,104.00 L372.00,104.10 L372.50,104.21 L373.00,104.32 L373.50,104.44 L374.00,104.56 L374.50,104.68 L375.00,104.81 L375.50,104.93 L376.00,105.05 L376.50,105.17 L377.00,105.29 L377.50,105.41 L378.00,105.52 L378.50,105.63 L379.00,105.72 L379.50,105.82 L380.00,105.90 L380.50,105.98 L381.00,106.05 L381.50,106.12 L382.00,106.19 L382.50,106.26 L383.00,106.32 L383.50,106.38 L384.00,106.44 L384.50,106.50 L385.00,106.55 L385.50,106.61 L386.00,106.66 L386.50,106.72 L387.00,106.77 L387.50,106.83 L388.00,106.88 L388.50,106.93 L389.00,106.99 L389.50,107.04 L390.00,107.10 L390.50,107.16 L391.00,107.21 L391.50,107.27 L392.00,107.32 L392.50,107.38 L393.00,107.43 L393.50,107.49 L394.00,107.54 L394.50,107.60 L395.00,107.65 L395.50,107.70 L396.00,107.76 L396.50,107.81 L397.00,107.87 L397.50,107.92 L398.00,107.98 L398.50,108.03 L399.00,108.09 L399.50,108.14 L400.00,108.20 L400.50,108.26 L401.00,108.32 L401.50,108.37 L402.00,108.43 L402.50,108.49 L403.00,108.55 L403.50,108.61 L404.00,108.67 L404.50,108.73 L405.00,108.79 L405.50,108.85 L406.00,108.91 L406.50,108.97 L407.00,109.03 L407.50,109.09 L408.00,109.15 L408.50,109.22 L409.00,109.28 L409.50,109.34 L410.00,109.40 L410.50,109.46 L411.00,109.52 L411.50,109.59 L412.00,109.65 L412.50,109.71 L413.00,109.77 L413.50,109.84 L414.00,109.90 L414.50,109.96 L415.00,110.03 L415.50,110.09 L416.00,110.15 L416.50,110.22 L417.00,110.28 L417.50,110.35 L418.00,110.41 L418.50,110.47 L418.70,110.50 L419.30,190.00 L419.80,197.26 L420.30,203.88 L420.80,209.72 L421.30,214.65 L421.80,218.56 L422.30,221.47 L422.80,223.97 L423.30,226.00 L423.80,227.43 L424.30,228.25 L424.80,228.94 L425.30,229.56 L425.80,230.12 L426.30,230.61 L426.80,231.05 L427.30,231.43 L427.80,231.77 L428.30,232.06 L428.80,232.32 L429.30,232.54 L429.80,232.73 L430.30,232.90 L430.80,233.07 L431.30,233.23 L431.80,233.38 L432.30,233.53 L432.80,233.67 L433.30,233.80 L433.80,233.93 L434.30,234.04 L434.80,234.15 L435.30,234.25 L435.80,234.34 L436.30,234.41 L436.80,234.47 L437.30,234.53 L437.80,234.56 L438.30,234.59 L438.80,234.60 L439.30,234.60 L439.80,234.59 L440.30,234.57 L440.80,234.55 L441.30,234.53 L441.80,234.50 L442.30,234.46 L442.80,234.42 L443.30,234.37 L443.80,234.32 L444.30,234.26 L444.80,234.20 L445.30,234.14 L445.80,234.07 L446.30,234.00 L446.80,233.92 L447.30,233.84 L447.80,233.76 L448.30,233.68 L448.80,233.59 L449.30,233.51 L449.80,233.42 L450.30,233.33 L450.80,233.23 L451.30,233.14 L451.80,233.05 L452.30,232.95 L452.80,232.86 L453.30,232.76 L453.80,232.66 L454.30,232.57 L454.80,232.47 L455.30,232.38 L455.80,232.29 L456.30,232.19 L456.80,232.10 L457.30,232.01 L457.80,231.93 L458.30,231.84 L458.80,231.76 L459.30,231.68 L459.80,231.60 L460.30,231.53 L460.80,231.46 L461.30,231.39 L461.80,231.32 L462.30,231.26 L462.80,231.20 L463.30,231.14 L463.80,231.08 L464.30,231.03 L464.80,230.97 L465.30,230.91 L465.80,230.85 L466.30,230.79 L466.80,230.74 L467.30,230.68 L467.80,230.62 L468.30,230.56 L468.80,230.51 L469.30,230.45 L469.80,230.40 L470.30,230.34 L470.80,230.29 L471.30,230.23 L471.80,230.18 L472.30,230.13 L472.80,230.07 L473.30,230.02 L473.80,229.97 L474.30,229.91 L474.80,229.86 L475.30,229.81 L475.80,229.76 L476.30,229.71 L476.80,229.66 L477.30,229.61 L477.80,229.56 L478.30,229.51 L478.80,229.46 L479.30,229.42 L479.80,229.37 L480.30,229.32 L480.80,229.27 L481.30,229.23 L481.80,229.18 L482.30,229.14 L482.80,229.09 L483.30,229.05 L483.80,229.00 L484.30,228.96 L484.80,228.92 L485.00,228.90 L486.00,232.70 L486.50,232.59 L487.00,232.48 L487.50,232.36 L488.00,232.25 L488.50,232.14 L489.00,232.02 L489.50,231.91 L490.00,231.80 L490.50,231.68 L491.00,231.57 L491.50,231.46 L492.00,231.34 L492.50,231.23 L493.00,231.12 L493.50,231.00 L494.00,230.89 L494.50,230.77 L495.00,230.66 L495.50,230.54 L496.00,230.43 L496.50,230.31 L497.00,230.20 L497.50,230.08 L498.00,229.96 L498.50,229.84 L499.00,229.72 L499.50,229.59 L500.00,229.46 L500.50,229.34 L501.00,229.21 L501.50,229.08 L502.00,228.95 L502.50,228.82 L503.00,228.69 L503.50,228.56 L504.00,228.43 L504.50,228.31 L505.00,228.19 L505.50,228.07 L506.00,227.95 L506.50,227.83 L507.00,227.72 L507.50,227.61 L508.00,227.51 L508.50,227.41 L509.00,227.32 L509.50,227.23 L510.00,227.15 L510.50,227.07 L511.00,226.99 L511.50,226.92 L512.00,226.85 L512.50,226.77 L513.00,226.70 L513.50,226.63 L514.00,226.56 L514.50,226.49 L515.00,226.43 L515.50,226.36 L516.00,226.29 L516.50,226.23 L517.00,226.17 L517.50,226.10 L518.00,226.04 L518.50,225.98 L519.00,225.92 L519.50,225.86 L520.00,225.80 L520.50,225.75 L521.00,225.69 L521.50,225.64 L522.00,225.58 L522.50,225.53 L523.00,225.47 L523.50,225.42 L524.00,225.37 L524.50,225.32 L525.00,225.27 L525.50,225.22 L526.00,225.17 L526.50,225.13 L527.00,225.08 L527.50,225.03 L528.00,224.99 L528.50,224.94 L529.00,224.90 L529.50,224.86 L530.00,224.81 L530.50,224.77 L531.00,224.73 L531.50,224.69 L532.00,224.65 L532.50,224.61 L533.00,224.57 L533.50,224.54 L534.00,224.50 L534.50,224.46 L535.00,224.43 L535.50,224.39 L536.00,224.36 L536.50,224.32 L537.00,224.29 L537.50,224.26 L538.00,224.22 L538.50,224.19 L539.00,224.16 L539.50,224.13 L540.00,224.10 L540.50,224.07 L541.00,224.04 L541.50,224.01 L542.00,223.98 L542.50,223.95 L543.00,223.92 L543.50,223.89 L544.00,223.86 L544.50,223.83 L545.00,223.81 L545.50,223.78 L546.00,223.75 L546.50,223.73 L547.00,223.70 L547.50,223.68 L548.00,223.65 L548.50,223.62 L549.00,223.60 L549.50,223.58 L550.00,223.55 L550.50,223.53 L551.00,223.50 L551.50,223.48 L552.00,223.46 L552.50,223.43 L553.00,223.41 L553.50,223.39 L554.00,223.37 L554.50,223.35 L555.00,223.32 L555.50,223.30 L556.00,223.28 L556.50,223.26 L557.00,223.24 L557.50,223.22 L558.00,223.20 L558.50,223.18 L559.00,223.16 L559.50,223.14 L560.00,223.12 L560.50,223.10 L561.00,223.08 L561.50,223.06 L562.00,223.04 L562.50,223.02 L563.00,223.00 L563.50,222.98 L564.00,222.96 L564.50,222.95 L565.00,222.93 L565.50,222.91 L566.00,222.89 L566.50,222.87 L567.00,222.85 L567.50,222.83 L568.00,222.81 L568.50,222.79 L569.00,222.78 L569.50,222.76 L570.00,222.74 L570.50,222.72 L571.00,222.70 L571.50,222.68 L572.00,222.66 L572.50,222.65 L573.00,222.63 L573.50,222.61 L574.00,222.59 L574.50,222.57 L575.00,222.55 L575.50,222.54 L576.00,222.52 L576.50,222.50 L577.00,222.48 L577.50,222.47 L578.00,222.45 L578.50,222.43 L579.00,222.41 L579.50,222.40 L580.00,222.38 L580.50,222.36 L581.00,222.34 L581.50,222.33 L582.00,222.31 L582.50,222.29 L583.00,222.28 L583.50,222.26 L584.00,222.24 L584.50,222.23 L585.00,222.21 L585.50,222.19 L586.00,222.18 L586.50,222.16 L587.00,222.15 L587.50,222.13 L588.00,222.11 L588.50,222.10 L589.00,222.08 L589.50,222.07 L590.00,222.05 L590.50,222.04 L591.00,222.02 L591.50,222.01 L592.00,221.99 L592.50,221.98 L593.00,221.96 L593.50,221.95 L594.00,221.93 L594.50,221.92 L595.00,221.90 L595.50,221.89 L596.00,221.88 L596.50,221.86 L597.00,221.85 L597.50,221.84 L598.00,221.82 L598.50,221.81 L599.00,221.80 L599.50,221.78 L600.00,221.77 L600.50,221.76 L601.00,221.74 L601.50,221.73 L602.00,221.72 L602.50,221.71 L603.00,221.69 L603.50,221.68 L604.00,221.67 L604.50,221.66 L605.00,221.65 L605.50,221.64 L606.00,221.63 L606.50,221.61 L607.00,221.60 L607.50,221.59 L608.00,221.58 L608.50,221.57 L609.00,221.56 L609.50,221.55 L610.00,221.54 L610.50,221.53 L611.00,221.52 L611.50,221.51 L612.00,221.50 L612.50,221.49 L613.00,221.49 L613.50,221.48 L614.00,221.47 L614.50,221.46 L615.00,221.45 L615.50,221.44 L616.00,221.44 L616.50,221.43 L617.00,221.42 L617.50,221.41 L618.00,221.41 L618.50,221.40" fill="none" stroke="#1f3462" stroke-width="1.5" stroke-linejoin="round"/>
<path d="M70.00,413.50 L70.50,413.58 L71.00,413.66 L71.50,413.73 L72.00,413.81 L72.50,413.88 L73.00,413.95 L73.50,414.01 L74.00,414.08 L74.50,414.14 L75.00,414.20 L75.50,414.26 L76.00,414.31 L76.50,414.37 L77.00,414.42 L77.50,414.47 L78.00,414.52 L78.50,414.57 L79.00,414.61 L79.50,414.66 L80.00,414.70 L80.50,414.74 L81.00,414.78 L81.50,414.82 L82.00,414.86 L82.50,414.90 L83.00,414.93 L83.50,414.97 L84.00,415.01 L84.50,415.04 L85.00,415.07 L85.50,415.11 L86.00,415.14 L86.50,415.17 L87.00,415.21 L87.50,415.24 L88.00,415.27 L88.50,415.30 L89.00,415.34 L89.50,415.37 L90.00,415.40 L90.50,415.43 L91.00,415.46 L91.50,415.50 L92.00,415.53 L92.50,415.56 L93.00,415.59 L93.50,415.62 L94.00,415.65 L94.50,415.68 L95.00,415.71 L95.50,415.74 L96.00,415.77 L96.50,415.80 L97.00,415.83 L97.50,415.86 L98.00,415.88 L98.50,415.91 L99.00,415.94 L99.50,415.97 L100.00,416.00 L100.50,416.03 L101.00,416.06 L101.50,416.08 L102.00,416.11 L102.50,416.14 L103.00,416.17 L103.50,416.19 L104.00,416.22 L104.50,416.24 L105.00,416.27 L105.50,416.29 L106.00,416.32 L106.50,416.35 L107.00,416.37 L107.50,416.40 L108.00,416.42 L108.50,416.45 L109.00,416.47 L109.50,416.50 L110.00,416.52 L110.50,416.55 L111.00,416.57 L111.50,416.60 L112.00,416.62 L112.50,416.65 L113.00,416.68 L113.50,416.70 L114.00,416.73 L114.50,416.76 L115.00,416.79 L115.50,416.82 L116.00,416.85 L116.50,416.87 L117.00,416.91 L117.50,416.94 L118.00,416.97 L118.50,417.00 L119.00,417.03 L119.50,417.07 L120.00,417.10 L120.50,417.14 L121.00,417.17 L121.50,417.21 L122.00,417.25 L122.50,417.28 L123.00,417.32 L123.50,417.36 L124.00,417.40 L124.50,417.44 L125.00,417.49 L125.50,417.53 L126.00,417.57 L126.50,417.62 L127.00,417.66 L127.50,417.71 L128.00,417.75 L128.50,417.80 L129.00,417.85 L129.50,417.89 L130.00,417.94 L130.50,417.99 L131.00,418.04 L131.50,418.09 L132.00,418.14 L132.50,418.19 L133.00,418.24 L133.50,418.29 L134.00,418.35 L134.50,418.40 L135.00,418.45 L135.50,418.50 L136.00,418.56 L136.40,418.60 L136.40,419.00 L136.90,418.45 L137.40,417.90 L137.90,417.36 L138.40,416.84 L138.90,416.31 L139.40,415.80 L139.90,415.30 L140.40,414.80 L140.90,414.32 L141.40,413.84 L141.90,413.37 L142.40,412.91 L142.90,412.45 L143.40,412.00 L143.90,411.55 L144.40,411.10 L144.90,410.65 L145.40,410.22 L145.90,409.79 L146.40,409.37 L146.90,408.95 L147.40,408.55 L147.90,408.14 L148.40,407.75 L148.90,407.37 L149.40,407.01 L149.90,406.66 L150.40,406.33 L150.90,406.01 L151.40,405.70 L151.90,405.40 L152.40,405.12 L152.90,404.85 L153.40,404.58 L153.90,404.32 L154.40,404.07 L154.90,403.84 L155.40,403.62 L155.90,403.43 L156.40,403.27 L156.90,403.12 L157.40,402.98 L157.90,402.85 L158.40,402.74 L158.90,402.64 L159.40,402.55 L159.90,402.47 L160.40,402.39 L160.90,402.32 L161.40,402.25 L161.90,402.18 L162.40,402.12 L162.90,402.06 L163.40,402.01 L163.90,401.95 L164.40,401.90 L164.90,401.85 L165.40,401.80 L165.90,401.75 L166.40,401.70 L166.90,401.65 L167.40,401.60 L167.90,401.56 L168.40,401.51 L168.90,401.46 L169.40,401.42 L169.90,401.38 L170.40,401.33 L170.90,401.30 L171.40,401.26 L171.90,401.22 L172.40,401.19 L172.90,401.16 L173.40,401.13 L173.90,401.10 L174.40,401.08 L174.90,401.06 L175.40,401.04 L175.90,401.02 L176.40,401.00 L176.90,400.98 L177.40,400.96 L177.90,400.94 L178.40,400.92 L178.90,400.90 L179.40,400.89 L179.90,400.87 L180.40,400.86 L180.90,400.84 L181.40,400.83 L181.90,400.81 L182.40,400.80 L182.90,400.78 L183.40,400.77 L183.90,400.76 L184.40,400.74 L184.90,400.73 L185.40,400.72 L185.90,400.71 L186.40,400.69 L186.90,400.68 L187.40,400.67 L187.90,400.66 L188.40,400.64 L188.90,400.63 L189.40,400.62 L189.90,400.60 L190.40,400.59 L190.90,400.57 L191.40,400.56 L191.90,400.55 L192.40,400.53 L192.90,400.51 L193.40,400.50 L193.90,400.48 L194.40,400.47 L194.90,400.45 L195.40,400.44 L195.90,400.42 L196.40,400.41 L196.90,400.40 L197.40,400.38 L197.90,400.37 L198.40,400.36 L198.90,400.35 L199.40,400.34 L199.90,400.33 L200.40,400.32 L200.90,400.31 L201.40,400.31 L201.90,400.30 L202.40,400.30 L202.90,400.30 L203.40,400.30 L203.90,400.29 L204.40,400.29 L204.90,400.29 L205.40,400.29 L205.90,400.29 L206.40,400.29 L206.90,400.28 L207.40,400.28 L207.90,400.28 L208.40,400.28 L208.90,400.28 L209.40,400.28 L209.90,400.27 L210.40,400.27 L210.90,400.27 L211.40,400.27 L211.90,400.27 L212.40,400.27 L212.90,400.26 L213.40,400.26 L213.90,400.26 L214.40,400.26 L214.90,400.26 L215.40,400.26 L215.90,400.25 L216.40,400.25 L216.90,400.25 L217.40,400.25 L217.90,400.25 L218.40,400.25 L218.90,400.24 L219.40,400.24 L219.90,400.24 L220.40,400.24 L220.90,400.24 L221.40,400.24 L221.90,400.24 L222.40,400.23 L222.90,400.23 L223.40,400.23 L223.90,400.23 L224.40,400.23 L224.90,400.23 L225.40,400.23 L225.90,400.22 L226.40,400.22 L226.90,400.22 L227.40,400.22 L227.90,400.22 L228.40,400.22 L228.90,400.22 L229.40,400.21 L229.90,400.21 L230.40,400.21 L230.90,400.21 L231.40,400.21 L231.90,400.21 L232.40,400.21 L232.90,400.21 L233.40,400.20 L233.90,400.20 L234.40,400.20 L234.90,400.20 L235.40,400.20 L235.90,400.20 L236.40,400.20 L236.90,400.20 L237.40,400.20 L237.90,400.19 L238.40,400.19 L238.90,400.19 L239.40,400.19 L239.90,400.19 L240.40,400.19 L240.90,400.19 L241.40,400.19 L241.90,400.19 L242.40,400.18 L242.90,400.18 L243.40,400.18 L243.90,400.18 L244.40,400.18 L244.90,400.18 L245.40,400.18 L245.90,400.18 L246.40,400.18 L246.90,400.17 L247.40,400.17 L247.90,400.17 L248.40,400.17 L248.90,400.17 L249.40,400.17 L249.90,400.17 L250.40,400.17 L250.90,400.17 L251.40,400.17 L251.90,400.16 L252.40,400.16 L252.90,400.16 L253.40,400.16 L253.90,400.16 L254.40,400.16 L254.90,400.16 L255.40,400.16 L255.90,400.16 L256.40,400.16 L256.90,400.16 L257.40,400.16 L257.90,400.15 L258.40,400.15 L258.90,400.15 L259.40,400.15 L259.90,400.15 L260.40,400.15 L260.90,400.15 L261.40,400.15 L261.90,400.15 L262.40,400.15 L262.90,400.15 L263.40,400.15 L263.90,400.15 L264.40,400.14 L264.90,400.14 L265.40,400.14 L265.90,400.14 L266.40,400.14 L266.90,400.14 L267.40,400.14 L267.90,400.14 L268.40,400.14 L268.90,400.14 L269.40,400.14 L269.90,400.14 L270.40,400.14 L270.90,400.14 L271.40,400.14 L271.90,400.13 L272.40,400.13 L272.90,400.13 L273.40,400.13 L273.90,400.13 L274.40,400.13 L274.90,400.13 L275.40,400.13 L275.90,400.13 L276.40,400.13 L276.90,400.13 L277.40,400.13 L277.90,400.13 L278.40,400.13 L278.90,400.13 L279.40,400.13 L279.90,400.13 L280.40,400.12 L280.90,400.12 L281.40,400.12 L281.90,400.12 L282.40,400.12 L282.90,400.12 L283.40,400.12 L283.90,400.12 L284.40,400.12 L284.90,400.12 L285.40,400.12 L285.90,400.12 L286.40,400.12 L286.90,400.12 L287.40,400.12 L287.90,400.12 L288.40,400.12 L288.90,400.12 L289.40,400.12 L289.90,400.12 L290.40,400.12 L290.90,400.12 L291.40,400.12 L291.90,400.11 L292.40,400.11 L292.90,400.11 L293.40,400.11 L293.90,400.11 L294.40,400.11 L294.90,400.11 L295.40,400.11 L295.90,400.11 L296.40,400.11 L296.90,400.11 L297.40,400.11 L297.90,400.11 L298.40,400.11 L298.90,400.11 L299.40,400.11 L299.90,400.11 L300.40,400.11 L300.90,400.11 L301.40,400.11 L301.90,400.11 L302.40,400.11 L302.90,400.11 L303.40,400.11 L303.90,400.11 L304.40,400.11 L304.90,400.11 L305.40,400.11 L305.90,400.11 L306.40,400.11 L306.90,400.11 L307.40,400.11 L307.90,400.11 L308.40,400.11 L308.90,400.11 L309.40,400.10 L309.90,400.10 L310.40,400.10 L310.90,400.10 L311.40,400.10 L311.90,400.10 L312.40,400.10 L312.90,400.10 L313.40,400.10 L313.90,400.10 L314.40,400.10 L314.90,400.10 L315.40,400.10 L315.90,400.10 L316.40,400.10 L316.90,400.10 L317.40,400.10 L317.90,400.10 L318.40,400.10 L318.90,400.10 L319.40,400.10 L319.90,400.10 L320.40,400.10 L320.90,400.10 L321.40,400.10 L321.90,400.10 L322.40,400.10 L322.90,400.10 L323.40,400.10 L323.90,400.10 L324.40,400.10 L324.90,400.10 L325.40,400.10 L325.90,400.10 L326.40,400.10 L326.90,400.10 L327.40,400.10 L327.90,400.10 L328.40,400.10 L328.90,400.10 L329.40,400.10 L329.90,400.10 L330.40,400.10 L330.90,400.10 L331.40,400.10 L331.90,400.10 L332.40,400.10 L332.90,400.10 L333.40,400.10 L333.90,400.10 L334.40,400.10 L334.90,400.10 L335.40,400.10 L335.90,400.10 L336.00,400.10" fill="none" stroke="#e8a030" stroke-width="1.4" stroke-linejoin="round" stroke-dasharray="1.2 1.0" stroke-dashoffset="0"/>
<path d="M70.00,413.80 L70.50,413.89 L71.00,413.99 L71.50,414.07 L72.00,414.16 L72.50,414.24 L73.00,414.32 L73.50,414.40 L74.00,414.47 L74.50,414.54 L75.00,414.60 L75.50,414.66 L76.00,414.72 L76.50,414.77 L77.00,414.82 L77.50,414.87 L78.00,414.92 L78.50,414.96 L79.00,415.01 L79.50,415.06 L80.00,415.10 L80.50,415.14 L81.00,415.19 L81.50,415.23 L82.00,415.28 L82.50,415.32 L83.00,415.36 L83.50,415.40 L84.00,415.45 L84.50,415.49 L85.00,415.53 L85.50,415.57 L86.00,415.61 L86.50,415.64 L87.00,415.68 L87.50,415.72 L88.00,415.76 L88.50,415.79 L89.00,415.83 L89.50,415.87 L90.00,415.90 L90.50,415.93 L91.00,415.97 L91.50,416.00 L92.00,416.03 L92.50,416.06 L93.00,416.09 L93.50,416.12 L94.00,416.15 L94.50,416.18 L95.00,416.21 L95.50,416.24 L96.00,416.27 L96.50,416.30 L97.00,416.33 L97.50,416.36 L98.00,416.39 L98.50,416.41 L99.00,416.44 L99.50,416.47 L100.00,416.50 L100.50,416.53 L101.00,416.56 L101.50,416.58 L102.00,416.61 L102.50,416.64 L103.00,416.67 L103.50,416.69 L104.00,416.72 L104.50,416.75 L105.00,416.77 L105.50,416.80 L106.00,416.82 L106.50,416.85 L107.00,416.88 L107.50,416.90 L108.00,416.93 L108.50,416.95 L109.00,416.98 L109.50,417.01 L110.00,417.03 L110.50,417.06 L111.00,417.08 L111.50,417.11 L112.00,417.14 L112.50,417.16 L113.00,417.19 L113.50,417.22 L114.00,417.24 L114.50,417.27 L115.00,417.30 L115.50,417.33 L116.00,417.36 L116.50,417.38 L117.00,417.41 L117.50,417.44 L118.00,417.47 L118.50,417.50 L119.00,417.54 L119.50,417.57 L120.00,417.60 L120.50,417.63 L121.00,417.67 L121.50,417.70 L122.00,417.73 L122.50,417.77 L123.00,417.80 L123.50,417.84 L124.00,417.88 L124.50,417.91 L125.00,417.95 L125.50,417.99 L126.00,418.03 L126.50,418.07 L127.00,418.10 L127.50,418.14 L128.00,418.18 L128.50,418.22 L129.00,418.26 L129.50,418.30 L130.00,418.35 L130.50,418.39 L131.00,418.43 L131.50,418.47 L132.00,418.51 L132.50,418.56 L133.00,418.60 L133.50,418.64 L134.00,418.69 L134.50,418.73 L135.00,418.77 L135.50,418.82 L136.00,418.86 L136.40,418.90 L136.40,419.00 L136.90,418.42 L137.40,417.84 L137.90,417.28 L138.40,416.72 L138.90,416.18 L139.40,415.64 L139.90,415.11 L140.40,414.60 L140.90,414.09 L141.40,413.59 L141.90,413.10 L142.40,412.62 L142.90,412.16 L143.40,411.70 L143.90,411.25 L144.40,410.82 L144.90,410.39 L145.40,409.97 L145.90,409.56 L146.40,409.16 L146.90,408.76 L147.40,408.37 L147.90,407.99 L148.40,407.61 L148.90,407.25 L149.40,406.90 L149.90,406.57 L150.40,406.26 L150.90,405.95 L151.40,405.66 L151.90,405.38 L152.40,405.11 L152.90,404.85 L153.40,404.59 L153.90,404.33 L154.40,404.08 L154.90,403.84 L155.40,403.62 L155.90,403.43 L156.40,403.27 L156.90,403.12 L157.40,402.98 L157.90,402.85 L158.40,402.74 L158.90,402.64 L159.40,402.55 L159.90,402.47 L160.40,402.39 L160.90,402.32 L161.40,402.25 L161.90,402.18 L162.40,402.12 L162.90,402.06 L163.40,402.01 L163.90,401.95 L164.40,401.90 L164.90,401.85 L165.40,401.80 L165.90,401.75 L166.40,401.70 L166.90,401.65 L167.40,401.60 L167.90,401.56 L168.40,401.51 L168.90,401.46 L169.40,401.42 L169.90,401.38 L170.40,401.33 L170.90,401.30 L171.40,401.26 L171.90,401.22 L172.40,401.19 L172.90,401.16 L173.40,401.13 L173.90,401.10 L174.40,401.08 L174.90,401.06 L175.40,401.04 L175.90,401.02 L176.40,401.00 L176.90,400.98 L177.40,400.96 L177.90,400.94 L178.40,400.92 L178.90,400.90 L179.40,400.89 L179.90,400.87 L180.40,400.86 L180.90,400.84 L181.40,400.83 L181.90,400.81 L182.40,400.80 L182.90,400.78 L183.40,400.77 L183.90,400.76 L184.40,400.74 L184.90,400.73 L185.40,400.72 L185.90,400.71 L186.40,400.69 L186.90,400.68 L187.40,400.67 L187.90,400.66 L188.40,400.64 L188.90,400.63 L189.40,400.62 L189.90,400.60 L190.40,400.59 L190.90,400.58 L191.40,400.56 L191.90,400.55 L192.40,400.54 L192.90,400.52 L193.40,400.51 L193.90,400.50 L194.40,400.49 L194.90,400.47 L195.40,400.46 L195.90,400.45 L196.40,400.44 L196.90,400.42 L197.40,400.41 L197.90,400.40 L198.40,400.39 L198.90,400.38 L199.40,400.37 L199.90,400.36 L200.40,400.34 L200.90,400.33 L201.40,400.32 L201.90,400.31 L202.40,400.30 L202.50,400.30 L203.00,400.35 L203.50,400.39 L204.00,400.44 L204.50,400.49 L205.00,400.54 L205.50,400.59 L206.00,400.64 L206.50,400.68 L207.00,400.73 L207.50,400.77 L208.00,400.81 L208.50,400.84 L209.00,400.86 L209.50,400.89 L210.00,400.90 L210.50,400.91 L211.00,400.92 L211.50,400.93 L212.00,400.94 L212.50,400.95 L213.00,400.96 L213.50,400.97 L214.00,400.98 L214.50,400.99 L215.00,401.00 L215.50,401.01 L216.00,401.02 L216.50,401.03 L217.00,401.04 L217.50,401.05 L218.00,401.05 L218.50,401.06 L219.00,401.07 L219.50,401.08 L220.00,401.08 L220.50,401.09 L221.00,401.10 L221.50,401.11 L222.00,401.11 L222.50,401.12 L223.00,401.13 L223.50,401.13 L224.00,401.14 L224.50,401.15 L225.00,401.15 L225.50,401.16 L226.00,401.16 L226.50,401.17 L227.00,401.18 L227.50,401.18 L228.00,401.19 L228.50,401.19 L229.00,401.20 L229.50,401.20 L230.00,401.21 L230.50,401.21 L231.00,401.22 L231.50,401.22 L232.00,401.23 L232.50,401.23 L233.00,401.24 L233.50,401.24 L234.00,401.24 L234.50,401.25 L235.00,401.25 L235.50,401.26 L236.00,401.26 L236.50,401.26 L237.00,401.27 L237.50,401.27 L238.00,401.28 L238.50,401.28 L239.00,401.28 L239.50,401.29 L240.00,401.29 L240.50,401.29 L241.00,401.30 L241.50,401.30 L242.00,401.30 L242.50,401.31 L243.00,401.31 L243.50,401.31 L244.00,401.32 L244.50,401.32 L245.00,401.32 L245.50,401.33 L246.00,401.33 L246.50,401.33 L247.00,401.33 L247.50,401.34 L248.00,401.34 L248.50,401.34 L249.00,401.35 L249.50,401.35 L250.00,401.35 L250.50,401.35 L251.00,401.36 L251.50,401.36 L252.00,401.36 L252.50,401.37 L253.00,401.37 L253.50,401.37 L254.00,401.38 L254.50,401.38 L255.00,401.38 L255.50,401.39 L256.00,401.39 L256.50,401.39 L257.00,401.39 L257.50,401.40 L258.00,401.40 L258.50,401.40 L259.00,401.41 L259.50,401.41 L260.00,401.42 L260.50,401.42 L261.00,401.42 L261.50,401.43 L262.00,401.43 L262.50,401.43 L263.00,401.44 L263.50,401.44 L264.00,401.45 L264.50,401.45 L265.00,401.45 L265.50,401.46 L266.00,401.46 L266.50,401.47 L267.00,401.47 L267.50,401.48 L268.00,401.48 L268.50,401.49 L269.00,401.49 L269.50,401.49 L270.00,401.50 L270.50,401.51 L271.00,401.51 L271.50,401.52 L272.00,401.52 L272.50,401.53 L273.00,401.53 L273.50,401.54 L274.00,401.54 L274.50,401.55 L275.00,401.55 L275.50,401.56 L276.00,401.56 L276.50,401.57 L277.00,401.57 L277.50,401.58 L278.00,401.58 L278.50,401.59 L279.00,401.59 L279.50,401.60 L280.00,401.60 L280.50,401.61 L281.00,401.61 L281.50,401.62 L282.00,401.62 L282.50,401.63 L283.00,401.63 L283.50,401.64 L284.00,401.64 L284.50,401.65 L285.00,401.66 L285.50,401.66 L286.00,401.67 L286.50,401.67 L287.00,401.68 L287.50,401.68 L288.00,401.69 L288.50,401.69 L289.00,401.70 L289.50,401.70 L290.00,401.71 L290.50,401.71 L291.00,401.72 L291.50,401.72 L292.00,401.73 L292.50,401.73 L293.00,401.74 L293.50,401.74 L294.00,401.75 L294.50,401.75 L295.00,401.76 L295.50,401.77 L296.00,401.77 L296.50,401.78 L297.00,401.78 L297.50,401.79 L298.00,401.79 L298.50,401.80 L299.00,401.80 L299.50,401.81 L300.00,401.81 L300.50,401.82 L301.00,401.82 L301.50,401.83 L302.00,401.83 L302.50,401.84 L303.00,401.84 L303.50,401.85 L304.00,401.86 L304.50,401.86 L305.00,401.87 L305.50,401.87 L306.00,401.88 L306.50,401.88 L307.00,401.89 L307.50,401.89 L308.00,401.90 L308.50,401.90 L309.00,401.91 L309.50,401.91 L310.00,401.92 L310.50,401.92 L311.00,401.93 L311.50,401.94 L312.00,401.94 L312.50,401.95 L313.00,401.95 L313.50,401.96 L314.00,401.96 L314.50,401.97 L315.00,401.97 L315.50,401.98 L316.00,401.98 L316.50,401.99 L317.00,401.99 L317.50,402.00 L318.00,402.00 L318.50,402.01 L319.00,402.02 L319.50,402.02 L320.00,402.03 L320.50,402.03 L321.00,402.04 L321.50,402.04 L322.00,402.05 L322.50,402.05 L323.00,402.06 L323.50,402.06 L324.00,402.07 L324.50,402.08 L325.00,402.08 L325.50,402.09 L326.00,402.09 L326.50,402.10 L327.00,402.10 L327.50,402.11 L328.00,402.11 L328.50,402.12 L329.00,402.12 L329.50,402.13 L330.00,402.13 L330.50,402.14 L331.00,402.15 L331.50,402.15 L332.00,402.16 L332.50,402.16 L333.00,402.17 L333.50,402.17 L334.00,402.18 L334.50,402.18 L335.00,402.19 L335.50,402.19 L336.00,402.20" fill="none" stroke="#ff0a0a" stroke-width="1.6" stroke-linejoin="round" stroke-dasharray="5.7 5.6" stroke-dashoffset="0"/>
<path d="M70.00,414.20 L70.50,414.29 L71.00,414.38 L71.50,414.46 L72.00,414.55 L72.50,414.63 L73.00,414.71 L73.50,414.78 L74.00,414.86 L74.50,414.93 L75.00,415.00 L75.50,415.07 L76.00,415.14 L76.50,415.20 L77.00,415.27 L77.50,415.33 L78.00,415.39 L78.50,415.45 L79.00,415.50 L79.50,415.55 L80.00,415.60 L80.50,415.64 L81.00,415.69 L81.50,415.73 L82.00,415.77 L82.50,415.80 L83.00,415.84 L83.50,415.88 L84.00,415.91 L84.50,415.94 L85.00,415.98 L85.50,416.01 L86.00,416.04 L86.50,416.07 L87.00,416.10 L87.50,416.13 L88.00,416.17 L88.50,416.20 L89.00,416.23 L89.50,416.27 L90.00,416.30 L90.50,416.34 L91.00,416.37 L91.50,416.41 L92.00,416.44 L92.50,416.48 L93.00,416.51 L93.50,416.55 L94.00,416.59 L94.50,416.62 L95.00,416.66 L95.50,416.70 L96.00,416.73 L96.50,416.77 L97.00,416.80 L97.50,416.84 L98.00,416.87 L98.50,416.90 L99.00,416.94 L99.50,416.97 L100.00,417.00 L100.50,417.03 L101.00,417.06 L101.50,417.09 L102.00,417.12 L102.50,417.15 L103.00,417.18 L103.50,417.20 L104.00,417.23 L104.50,417.26 L105.00,417.29 L105.50,417.31 L106.00,417.34 L106.50,417.36 L107.00,417.39 L107.50,417.42 L108.00,417.44 L108.50,417.47 L109.00,417.49 L109.50,417.52 L110.00,417.54 L110.50,417.57 L111.00,417.59 L111.50,417.62 L112.00,417.64 L112.50,417.67 L113.00,417.70 L113.50,417.72 L114.00,417.75 L114.50,417.78 L115.00,417.80 L115.50,417.83 L116.00,417.86 L116.50,417.89 L117.00,417.92 L117.50,417.94 L118.00,417.97 L118.50,418.01 L119.00,418.04 L119.50,418.07 L120.00,418.10 L120.50,418.13 L121.00,418.17 L121.50,418.20 L122.00,418.23 L122.50,418.27 L123.00,418.30 L123.50,418.34 L124.00,418.38 L124.50,418.41 L125.00,418.45 L125.50,418.49 L126.00,418.53 L126.50,418.57 L127.00,418.60 L127.50,418.64 L128.00,418.68 L128.50,418.72 L129.00,418.76 L129.50,418.80 L130.00,418.85 L130.50,418.89 L131.00,418.93 L131.50,418.97 L132.00,419.01 L132.50,419.06 L133.00,419.10 L133.50,419.14 L134.00,419.19 L134.50,419.23 L135.00,419.27 L135.50,419.32 L136.00,419.36 L136.40,419.40 L136.90,418.88 L137.40,418.37 L137.90,417.87 L138.40,417.37 L138.90,416.87 L139.40,416.38 L139.90,415.89 L140.40,415.40 L140.90,414.92 L141.40,414.45 L141.90,413.98 L142.40,413.51 L142.90,413.05 L143.40,412.60 L143.90,412.15 L144.40,411.70 L144.90,411.26 L145.40,410.82 L145.90,410.39 L146.40,409.97 L146.90,409.55 L147.40,409.13 L147.90,408.71 L148.40,408.30 L148.90,407.90 L149.40,407.52 L149.90,407.16 L150.40,406.81 L150.90,406.47 L151.40,406.14 L151.90,405.83 L152.40,405.53 L152.90,405.24 L153.40,404.96 L153.90,404.69 L154.40,404.42 L154.90,404.17 L155.40,403.94 L155.90,403.74 L156.40,403.56 L156.90,403.38 L157.40,403.22 L157.90,403.08 L158.40,402.95 L158.90,402.84 L159.40,402.75 L159.90,402.66 L160.40,402.58 L160.90,402.51 L161.40,402.44 L161.90,402.38 L162.40,402.32 L162.90,402.26 L163.40,402.20 L163.90,402.15 L164.40,402.10 L164.90,402.05 L165.40,402.00 L165.90,401.95 L166.40,401.90 L166.90,401.85 L167.40,401.80 L167.90,401.76 L168.40,401.71 L168.90,401.66 L169.40,401.62 L169.90,401.58 L170.40,401.53 L170.90,401.50 L171.40,401.46 L171.90,401.42 L172.40,401.39 L172.90,401.36 L173.40,401.33 L173.90,401.30 L174.40,401.28 L174.90,401.26 L175.40,401.24 L175.90,401.22 L176.40,401.20 L176.90,401.18 L177.40,401.16 L177.90,401.14 L178.40,401.13 L178.90,401.11 L179.40,401.09 L179.90,401.08 L180.40,401.06 L180.90,401.05 L181.40,401.04 L181.90,401.02 L182.40,401.01 L182.90,400.99 L183.40,400.98 L183.90,400.97 L184.40,400.96 L184.90,400.94 L185.40,400.93 L185.90,400.92 L186.40,400.90 L186.90,400.89 L187.40,400.88 L187.90,400.86 L188.40,400.85 L188.90,400.83 L189.40,400.82 L189.90,400.80 L190.40,400.79 L190.90,400.77 L191.40,400.76 L191.90,400.74 L192.40,400.72 L192.90,400.71 L193.40,400.69 L193.90,400.68 L194.40,400.66 L194.90,400.64 L195.40,400.63 L195.90,400.61 L196.40,400.60 L196.90,400.58 L197.40,400.56 L197.90,400.55 L198.40,400.53 L198.90,400.52 L199.40,400.50 L199.90,400.48 L200.40,400.47 L200.90,400.45 L201.40,400.44 L201.90,400.42 L202.40,400.40 L202.50,400.40 L202.90,430.10 L203.40,431.99 L203.90,433.87 L204.40,435.75 L204.90,437.63 L205.40,439.51 L205.90,441.38 L206.40,443.26 L206.90,445.13 L207.40,447.05 L207.90,449.12 L208.40,451.27 L208.90,453.43 L209.40,455.54 L209.90,457.54 L210.40,459.35 L210.90,460.93 L211.40,462.19 L211.90,463.14 L212.40,463.93 L212.90,464.62 L213.40,465.20 L213.90,465.71 L214.40,466.15 L214.90,466.55 L215.40,466.92 L215.90,467.25 L216.40,467.56 L216.90,467.85 L217.40,468.13 L217.90,468.39 L218.40,468.66 L218.90,468.92 L219.40,469.17 L219.90,469.43 L220.40,469.67 L220.90,469.92 L221.40,470.16 L221.90,470.39 L222.40,470.62 L222.90,470.84 L223.40,471.06 L223.90,471.27 L224.40,471.47 L224.90,471.66 L225.40,471.85 L225.90,472.03 L226.40,472.20 L226.90,472.36 L227.40,472.51 L227.90,472.65 L228.40,472.78 L228.90,472.90 L229.40,473.02 L229.90,473.14 L230.40,473.26 L230.90,473.38 L231.40,473.49 L231.90,473.61 L232.40,473.72 L232.90,473.83 L233.40,473.93 L233.90,474.04 L234.40,474.14 L234.90,474.23 L235.40,474.32 L235.90,474.41 L236.40,474.49 L236.90,474.57 L237.40,474.64 L237.90,474.71 L238.40,474.77 L238.90,474.83 L239.40,474.87 L239.90,474.92 L240.40,474.95 L240.90,474.98 L241.40,475.00 L241.90,475.01 L242.40,475.02 L242.90,475.04 L243.40,475.05 L243.90,475.06 L244.40,475.07 L244.90,475.09 L245.40,475.10 L245.90,475.11 L246.40,475.12 L246.90,475.13 L247.40,475.14 L247.90,475.14 L248.40,475.15 L248.90,475.16 L249.40,475.17 L249.90,475.17 L250.40,475.18 L250.90,475.18 L251.40,475.19 L251.90,475.19 L252.40,475.19 L252.90,475.20 L253.40,475.20 L253.90,475.20 L254.40,475.20 L254.90,475.20 L255.40,475.19 L255.90,475.19 L256.40,475.18 L256.90,475.17 L257.40,475.15 L257.90,475.13 L258.40,475.12 L258.90,475.09 L259.40,475.07 L259.90,475.05 L260.40,475.02 L260.90,474.99 L261.40,474.97 L261.90,474.94 L262.40,474.91 L262.90,474.88 L263.40,474.85 L263.90,474.82 L264.40,474.79 L264.90,474.75 L265.40,474.72 L265.90,474.69 L266.40,474.66 L266.90,474.63 L267.40,474.61 L267.90,474.58 L268.40,474.55 L268.90,474.52 L269.40,474.49 L269.90,474.46 L270.40,474.42 L270.90,474.39 L271.40,474.35 L271.90,474.32 L272.40,474.28 L272.90,474.25 L273.40,474.21 L273.90,474.17 L274.40,474.14 L274.90,474.10 L275.40,474.06 L275.90,474.02 L276.40,473.98 L276.90,473.94 L277.40,473.91 L277.90,473.87 L278.40,473.83 L278.90,473.79 L279.40,473.75 L279.90,473.71 L280.40,473.68 L280.90,473.64 L281.40,473.60 L281.90,473.57 L282.40,473.53 L282.90,473.50 L283.40,473.46 L283.90,473.43 L284.40,473.40 L284.90,473.37 L285.40,473.34 L285.90,473.31 L286.40,473.28 L286.90,473.25 L287.40,473.22 L287.90,473.19 L288.40,473.16 L288.90,473.14 L289.40,473.11 L289.90,473.08 L290.40,473.05 L290.90,473.03 L291.40,473.00 L291.90,472.98 L292.40,472.95 L292.90,472.92 L293.40,472.90 L293.90,472.87 L294.40,472.85 L294.90,472.82 L295.40,472.80 L295.90,472.77 L296.40,472.75 L296.90,472.72 L297.40,472.70 L297.90,472.67 L298.40,472.65 L298.90,472.63 L299.40,472.60 L299.90,472.58 L300.40,472.56 L300.90,472.53 L301.40,472.51 L301.90,472.49 L302.40,472.47 L302.90,472.45 L303.40,472.42 L303.90,472.40 L304.40,472.38 L304.90,472.36 L305.40,472.34 L305.90,472.32 L306.40,472.30 L306.90,472.28 L307.40,472.26 L307.90,472.24 L308.40,472.22 L308.90,472.20 L309.40,472.18 L309.90,472.16 L310.40,472.14 L310.90,472.12 L311.40,472.10 L311.90,472.08 L312.40,472.06 L312.90,472.04 L313.40,472.02 L313.90,472.00 L314.40,471.98 L314.90,471.97 L315.40,471.95 L315.90,471.93 L316.40,471.91 L316.90,471.89 L317.40,471.87 L317.90,471.86 L318.40,471.84 L318.90,471.82 L319.40,471.80 L319.90,471.79 L320.40,471.77 L320.90,471.75 L321.40,471.73 L321.90,471.72 L322.40,471.70 L322.90,471.68 L323.40,471.67 L323.90,471.65 L324.40,471.63 L324.90,471.62 L325.40,471.60 L325.90,471.59 L326.40,471.57 L326.90,471.55 L327.40,471.54 L327.90,471.52 L328.40,471.51 L328.90,471.49 L329.40,471.48 L329.90,471.46 L330.40,471.45 L330.90,471.44 L331.40,471.42 L331.90,471.41 L332.40,471.39 L332.90,471.38 L333.40,471.37 L333.90,471.35 L334.40,471.34 L334.90,471.33 L335.40,471.32 L335.90,471.30 L336.00,471.30" fill="none" stroke="#8c1519" stroke-width="1.5" stroke-linejoin="round"/>
<path d="M352.50,412.80 L353.00,412.99 L353.50,413.18 L354.00,413.35 L354.50,413.51 L355.00,413.66 L355.50,413.79 L356.00,413.90 L356.50,414.00 L357.00,414.09 L357.50,414.17 L358.00,414.25 L358.50,414.32 L359.00,414.38 L359.50,414.44 L360.00,414.50 L360.50,414.55 L361.00,414.60 L361.50,414.65 L362.00,414.70 L362.50,414.74 L363.00,414.79 L363.50,414.83 L364.00,414.87 L364.50,414.91 L365.00,414.94 L365.50,414.98 L366.00,415.02 L366.50,415.05 L367.00,415.09 L367.50,415.12 L368.00,415.16 L368.50,415.19 L369.00,415.23 L369.50,415.26 L370.00,415.30 L370.50,415.34 L371.00,415.37 L371.50,415.41 L372.00,415.45 L372.50,415.49 L373.00,415.52 L373.50,415.56 L374.00,415.59 L374.50,415.63 L375.00,415.67 L375.50,415.70 L376.00,415.74 L376.50,415.77 L377.00,415.80 L377.50,415.84 L378.00,415.87 L378.50,415.90 L379.00,415.94 L379.50,415.97 L380.00,416.00 L380.50,416.03 L381.00,416.06 L381.50,416.09 L382.00,416.12 L382.50,416.15 L383.00,416.18 L383.50,416.21 L384.00,416.24 L384.50,416.27 L385.00,416.29 L385.50,416.32 L386.00,416.35 L386.50,416.38 L387.00,416.40 L387.50,416.43 L388.00,416.46 L388.50,416.49 L389.00,416.51 L389.50,416.54 L390.00,416.57 L390.50,416.59 L391.00,416.62 L391.50,416.64 L392.00,416.67 L392.50,416.70 L393.00,416.72 L393.50,416.75 L394.00,416.78 L394.50,416.80 L395.00,416.83 L395.50,416.85 L396.00,416.88 L396.50,416.91 L397.00,416.93 L397.50,416.96 L398.00,416.99 L398.50,417.02 L399.00,417.04 L399.50,417.07 L400.00,417.10 L400.50,417.13 L401.00,417.16 L401.50,417.18 L402.00,417.21 L402.50,417.24 L403.00,417.27 L403.50,417.30 L404.00,417.33 L404.50,417.36 L405.00,417.38 L405.50,417.41 L406.00,417.44 L406.50,417.47 L407.00,417.50 L407.50,417.53 L408.00,417.56 L408.50,417.59 L409.00,417.61 L409.50,417.64 L410.00,417.67 L410.50,417.70 L411.00,417.73 L411.50,417.76 L412.00,417.79 L412.50,417.82 L413.00,417.85 L413.50,417.88 L414.00,417.91 L414.50,417.93 L415.00,417.96 L415.50,417.99 L416.00,418.02 L416.50,418.05 L417.00,418.08 L417.50,418.11 L418.00,418.14 L418.50,418.17 L419.00,418.20 L419.00,418.50 L419.50,418.52 L420.00,418.54 L420.50,418.56 L421.00,418.58 L421.50,418.59 L422.00,418.61 L422.50,418.63 L423.00,418.65 L423.50,418.67 L424.00,418.69 L424.50,418.71 L425.00,418.72 L425.50,418.74 L426.00,418.76 L426.50,418.78 L427.00,418.80 L427.50,418.81 L428.00,418.83 L428.50,418.85 L429.00,418.87 L429.50,418.88 L430.00,418.90 L430.50,418.92 L431.00,418.94 L431.50,418.95 L432.00,418.97 L432.50,418.99 L433.00,419.00 L433.50,419.02 L434.00,419.04 L434.50,419.05 L435.00,419.07 L435.50,419.08 L436.00,419.10 L436.50,419.12 L437.00,419.13 L437.50,419.15 L438.00,419.16 L438.50,419.18 L439.00,419.19 L439.50,419.21 L440.00,419.23 L440.50,419.24 L441.00,419.26 L441.50,419.27 L442.00,419.28 L442.50,419.30 L443.00,419.31 L443.50,419.33 L444.00,419.34 L444.50,419.36 L445.00,419.37 L445.50,419.38 L446.00,419.40 L446.50,419.41 L447.00,419.42 L447.50,419.44 L448.00,419.45 L448.50,419.46 L449.00,419.48 L449.50,419.49 L450.00,419.50 L450.50,419.51 L451.00,419.52 L451.50,419.54 L452.00,419.55 L452.50,419.56 L453.00,419.57 L453.50,419.59 L454.00,419.60 L454.50,419.61 L455.00,419.62 L455.50,419.63 L456.00,419.64 L456.50,419.66 L457.00,419.67 L457.50,419.68 L458.00,419.69 L458.50,419.70 L459.00,419.71 L459.50,419.72 L460.00,419.74 L460.50,419.75 L461.00,419.76 L461.50,419.77 L462.00,419.78 L462.50,419.79 L463.00,419.80 L463.50,419.81 L464.00,419.82 L464.50,419.83 L465.00,419.84 L465.50,419.86 L466.00,419.87 L466.50,419.88 L467.00,419.89 L467.50,419.90 L468.00,419.91 L468.50,419.92 L469.00,419.93 L469.50,419.94 L470.00,419.95 L470.50,419.96 L471.00,419.97 L471.50,419.97 L472.00,419.98 L472.50,419.99 L473.00,420.00 L473.50,420.01 L474.00,420.02 L474.50,420.03 L475.00,420.04 L475.50,420.05 L476.00,420.06 L476.50,420.06 L477.00,420.07 L477.50,420.08 L478.00,420.09 L478.50,420.10 L479.00,420.11 L479.50,420.11 L480.00,420.12 L480.50,420.13 L481.00,420.14 L481.50,420.14 L482.00,420.15 L482.50,420.16 L483.00,420.17 L483.50,420.17 L484.00,420.18 L484.50,420.19 L485.00,420.19 L485.50,420.20 L485.50,420.30 L486.00,419.61 L486.50,418.93 L487.00,418.29 L487.50,417.67 L488.00,417.09 L488.50,416.54 L489.00,416.01 L489.50,415.50 L490.00,415.01 L490.50,414.53 L491.00,414.06 L491.50,413.58 L492.00,413.11 L492.50,412.64 L493.00,412.16 L493.50,411.69 L494.00,411.23 L494.50,410.79 L495.00,410.35 L495.50,409.94 L496.00,409.54 L496.50,409.16 L497.00,408.79 L497.50,408.43 L498.00,408.08 L498.50,407.75 L499.00,407.43 L499.50,407.12 L500.00,406.82 L500.50,406.53 L501.00,406.25 L501.50,405.98 L502.00,405.72 L502.50,405.47 L503.00,405.25 L503.50,405.04 L504.00,404.85 L504.50,404.66 L505.00,404.49 L505.50,404.33 L506.00,404.17 L506.50,404.03 L507.00,403.91 L507.50,403.80 L508.00,403.70 L508.50,403.61 L509.00,403.53 L509.50,403.45 L510.00,403.37 L510.50,403.30 L511.00,403.23 L511.50,403.16 L512.00,403.10 L512.50,403.04 L513.00,402.98 L513.50,402.92 L514.00,402.86 L514.50,402.80 L515.00,402.75 L515.50,402.69 L516.00,402.63 L516.50,402.57 L517.00,402.51 L517.50,402.46 L518.00,402.40 L518.50,402.34 L519.00,402.29 L519.50,402.24 L520.00,402.18 L520.50,402.13 L521.00,402.09 L521.50,402.04 L522.00,402.00 L522.50,401.95 L523.00,401.91 L523.50,401.88 L524.00,401.84 L524.50,401.81 L525.00,401.77 L525.50,401.74 L526.00,401.71 L526.50,401.67 L527.00,401.64 L527.50,401.61 L528.00,401.58 L528.50,401.55 L529.00,401.53 L529.50,401.50 L530.00,401.47 L530.50,401.45 L531.00,401.42 L531.50,401.40 L532.00,401.38 L532.50,401.36 L533.00,401.34 L533.50,401.32 L534.00,401.30 L534.50,401.28 L535.00,401.27 L535.50,401.25 L536.00,401.23 L536.50,401.22 L537.00,401.20 L537.50,401.19 L538.00,401.17 L538.50,401.15 L539.00,401.14 L539.50,401.12 L540.00,401.11 L540.50,401.10 L541.00,401.08 L541.50,401.07 L542.00,401.05 L542.50,401.04 L543.00,401.03 L543.50,401.02 L544.00,401.00 L544.50,400.99 L545.00,400.98 L545.50,400.97 L546.00,400.95 L546.50,400.94 L547.00,400.93 L547.50,400.92 L548.00,400.91 L548.50,400.90 L549.00,400.89 L549.50,400.88 L550.00,400.87 L550.50,400.86 L551.00,400.85 L551.50,400.84 L552.00,400.83 L552.50,400.82 L553.00,400.81 L553.50,400.80 L554.00,400.79 L554.50,400.78 L555.00,400.77 L555.50,400.77 L556.00,400.76 L556.50,400.75 L557.00,400.74 L557.50,400.74 L558.00,400.73 L558.50,400.72 L559.00,400.71 L559.50,400.71 L560.00,400.70 L560.50,400.69 L561.00,400.69 L561.50,400.68 L562.00,400.67 L562.50,400.67 L563.00,400.66 L563.50,400.65 L564.00,400.65 L564.50,400.64 L565.00,400.63 L565.50,400.63 L566.00,400.62 L566.50,400.61 L567.00,400.61 L567.50,400.60 L568.00,400.60 L568.50,400.59 L569.00,400.58 L569.50,400.58 L570.00,400.57 L570.50,400.56 L571.00,400.56 L571.50,400.55 L572.00,400.55 L572.50,400.54 L573.00,400.53 L573.50,400.53 L574.00,400.52 L574.50,400.51 L575.00,400.51 L575.50,400.50 L576.00,400.50 L576.50,400.49 L577.00,400.48 L577.50,400.48 L578.00,400.47 L578.50,400.47 L579.00,400.46 L579.50,400.46 L580.00,400.45 L580.50,400.44 L581.00,400.44 L581.50,400.43 L582.00,400.43 L582.50,400.42 L583.00,400.42 L583.50,400.41 L584.00,400.41 L584.50,400.40 L585.00,400.40 L585.50,400.39 L586.00,400.39 L586.50,400.38 L587.00,400.38 L587.50,400.37 L588.00,400.37 L588.50,400.36 L589.00,400.36 L589.50,400.35 L590.00,400.35 L590.50,400.34 L591.00,400.34 L591.50,400.33 L592.00,400.33 L592.50,400.32 L593.00,400.32 L593.50,400.31 L594.00,400.31 L594.50,400.31 L595.00,400.30 L595.50,400.30 L596.00,400.29 L596.50,400.29 L597.00,400.29 L597.50,400.28 L598.00,400.28 L598.50,400.28 L599.00,400.27 L599.50,400.27 L600.00,400.27 L600.50,400.26 L601.00,400.26 L601.50,400.26 L602.00,400.25 L602.50,400.25 L603.00,400.25 L603.50,400.24 L604.00,400.24 L604.50,400.24 L605.00,400.24 L605.50,400.23 L606.00,400.23 L606.50,400.23 L607.00,400.23 L607.50,400.22 L608.00,400.22 L608.50,400.22 L609.00,400.22 L609.50,400.22 L610.00,400.21 L610.50,400.21 L611.00,400.21 L611.50,400.21 L612.00,400.21 L612.50,400.21 L613.00,400.21 L613.50,400.21 L614.00,400.20 L614.50,400.20 L615.00,400.20 L615.50,400.20 L616.00,400.20 L616.50,400.20 L617.00,400.20 L617.50,400.20 L618.00,400.20 L618.50,400.20" fill="none" stroke="#e8a030" stroke-width="1.4" stroke-linejoin="round" stroke-dasharray="1.2 1.0" stroke-dashoffset="0"/>
<path d="M352.50,413.10 L353.00,413.31 L353.50,413.52 L354.00,413.71 L354.50,413.88 L355.00,414.04 L355.50,414.18 L356.00,414.30 L356.50,414.40 L357.00,414.49 L357.50,414.57 L358.00,414.65 L358.50,414.72 L359.00,414.78 L359.50,414.84 L360.00,414.90 L360.50,414.95 L361.00,415.00 L361.50,415.05 L362.00,415.10 L362.50,415.14 L363.00,415.19 L363.50,415.23 L364.00,415.27 L364.50,415.31 L365.00,415.34 L365.50,415.38 L366.00,415.42 L366.50,415.45 L367.00,415.49 L367.50,415.52 L368.00,415.56 L368.50,415.59 L369.00,415.63 L369.50,415.66 L370.00,415.70 L370.50,415.74 L371.00,415.77 L371.50,415.81 L372.00,415.85 L372.50,415.89 L373.00,415.92 L373.50,415.96 L374.00,415.99 L374.50,416.03 L375.00,416.07 L375.50,416.10 L376.00,416.14 L376.50,416.17 L377.00,416.20 L377.50,416.24 L378.00,416.27 L378.50,416.30 L379.00,416.34 L379.50,416.37 L380.00,416.40 L380.50,416.43 L381.00,416.46 L381.50,416.49 L382.00,416.52 L382.50,416.55 L383.00,416.58 L383.50,416.61 L384.00,416.64 L384.50,416.67 L385.00,416.70 L385.50,416.73 L386.00,416.76 L386.50,416.79 L387.00,416.81 L387.50,416.84 L388.00,416.87 L388.50,416.90 L389.00,416.92 L389.50,416.95 L390.00,416.98 L390.50,417.01 L391.00,417.03 L391.50,417.06 L392.00,417.09 L392.50,417.11 L393.00,417.14 L393.50,417.17 L394.00,417.19 L394.50,417.22 L395.00,417.24 L395.50,417.27 L396.00,417.30 L396.50,417.32 L397.00,417.35 L397.50,417.37 L398.00,417.40 L398.50,417.42 L399.00,417.45 L399.50,417.47 L400.00,417.50 L400.50,417.53 L401.00,417.55 L401.50,417.58 L402.00,417.60 L402.50,417.63 L403.00,417.65 L403.50,417.68 L404.00,417.70 L404.50,417.73 L405.00,417.75 L405.50,417.77 L406.00,417.80 L406.50,417.82 L407.00,417.85 L407.50,417.87 L408.00,417.90 L408.50,417.92 L409.00,417.94 L409.50,417.97 L410.00,417.99 L410.50,418.01 L411.00,418.04 L411.50,418.06 L412.00,418.08 L412.50,418.11 L413.00,418.13 L413.50,418.15 L414.00,418.18 L414.50,418.20 L415.00,418.22 L415.50,418.24 L416.00,418.27 L416.50,418.29 L417.00,418.31 L417.50,418.33 L418.00,418.36 L418.50,418.38 L419.00,418.40 L419.00,418.60 L419.50,418.74 L420.00,418.88 L420.50,419.03 L421.00,419.17 L421.50,419.31 L422.00,419.45 L422.50,419.60 L423.00,419.74 L423.50,419.89 L424.00,420.03 L424.50,420.18 L425.00,420.32 L425.50,420.47 L426.00,420.62 L426.50,420.76 L427.00,420.91 L427.50,421.06 L428.00,421.21 L428.50,421.36 L429.00,421.51 L429.50,421.66 L430.00,421.81 L430.50,421.96 L431.00,422.11 L431.50,422.26 L432.00,422.42 L432.50,422.57 L433.00,422.72 L433.50,422.88 L434.00,423.04 L434.50,423.20 L435.00,423.37 L435.50,423.53 L436.00,423.70 L436.50,423.87 L437.00,424.04 L437.50,424.21 L438.00,424.39 L438.50,424.56 L439.00,424.73 L439.50,424.91 L440.00,425.08 L440.50,425.26 L441.00,425.44 L441.50,425.61 L442.00,425.79 L442.50,425.96 L443.00,426.13 L443.50,426.31 L444.00,426.48 L444.50,426.65 L445.00,426.81 L445.50,426.98 L446.00,427.15 L446.50,427.31 L447.00,427.47 L447.50,427.63 L448.00,427.78 L448.50,427.93 L449.00,428.08 L449.50,428.23 L450.00,428.37 L450.50,428.51 L451.00,428.64 L451.50,428.77 L452.00,428.90 L452.50,429.02 L453.00,429.14 L453.50,429.26 L454.00,429.38 L454.50,429.50 L455.00,429.61 L455.50,429.72 L456.00,429.83 L456.50,429.94 L457.00,430.05 L457.50,430.16 L458.00,430.26 L458.50,430.37 L459.00,430.47 L459.50,430.58 L460.00,430.68 L460.50,430.78 L461.00,430.88 L461.50,430.97 L462.00,431.07 L462.50,431.17 L463.00,431.26 L463.50,431.36 L464.00,431.45 L464.50,431.54 L465.00,431.63 L465.50,431.73 L466.00,431.82 L466.50,431.91 L467.00,432.00 L467.50,432.08 L468.00,432.17 L468.50,432.26 L469.00,432.35 L469.50,432.43 L470.00,432.52 L470.50,432.60 L471.00,432.69 L471.50,432.78 L472.00,432.86 L472.50,432.94 L473.00,433.03 L473.50,433.11 L474.00,433.20 L474.50,433.28 L475.00,433.37 L475.50,433.45 L476.00,433.53 L476.50,433.62 L477.00,433.70 L477.50,433.78 L478.00,433.86 L478.50,433.94 L479.00,434.02 L479.50,434.10 L480.00,434.18 L480.50,434.26 L481.00,434.34 L481.50,434.41 L482.00,434.49 L482.50,434.56 L483.00,434.64 L483.50,434.71 L484.00,434.78 L484.50,434.86 L485.00,434.93 L485.50,435.00 L486.00,434.52 L486.50,434.01 L487.00,433.48 L487.50,432.93 L488.00,432.35 L488.50,431.76 L489.00,431.14 L489.50,430.50 L490.00,429.82 L490.50,429.10 L491.00,428.33 L491.50,427.54 L492.00,426.73 L492.50,425.92 L493.00,425.12 L493.50,424.34 L494.00,423.60 L494.50,422.87 L495.00,422.15 L495.50,421.41 L496.00,420.69 L496.50,419.96 L497.00,419.25 L497.50,418.55 L498.00,417.86 L498.50,417.20 L499.00,416.56 L499.50,415.94 L500.00,415.35 L500.50,414.80 L501.00,414.27 L501.50,413.74 L502.00,413.24 L502.50,412.76 L503.00,412.33 L503.50,411.93 L504.00,411.60 L504.50,411.31 L505.00,411.04 L505.50,410.79 L506.00,410.55 L506.50,410.34 L507.00,410.14 L507.50,409.96 L508.00,409.80 L508.50,409.65 L509.00,409.51 L509.50,409.37 L510.00,409.25 L510.50,409.13 L511.00,409.02 L511.50,408.91 L512.00,408.81 L512.50,408.70 L513.00,408.60 L513.50,408.50 L514.00,408.40 L514.50,408.30 L515.00,408.20 L515.50,408.10 L516.00,408.00 L516.50,407.91 L517.00,407.81 L517.50,407.72 L518.00,407.63 L518.50,407.55 L519.00,407.46 L519.50,407.38 L520.00,407.30 L520.50,407.22 L521.00,407.14 L521.50,407.07 L522.00,407.00 L522.50,406.93 L523.00,406.87 L523.50,406.80 L524.00,406.74 L524.50,406.67 L525.00,406.61 L525.50,406.55 L526.00,406.49 L526.50,406.43 L527.00,406.37 L527.50,406.31 L528.00,406.26 L528.50,406.20 L529.00,406.15 L529.50,406.09 L530.00,406.04 L530.50,405.99 L531.00,405.94 L531.50,405.90 L532.00,405.85 L532.50,405.80 L533.00,405.76 L533.50,405.72 L534.00,405.68 L534.50,405.64 L535.00,405.60 L535.50,405.56 L536.00,405.53 L536.50,405.49 L537.00,405.45 L537.50,405.42 L538.00,405.38 L538.50,405.35 L539.00,405.32 L539.50,405.28 L540.00,405.25 L540.50,405.22 L541.00,405.18 L541.50,405.15 L542.00,405.12 L542.50,405.09 L543.00,405.06 L543.50,405.03 L544.00,405.00 L544.50,404.97 L545.00,404.94 L545.50,404.91 L546.00,404.89 L546.50,404.86 L547.00,404.83 L547.50,404.80 L548.00,404.78 L548.50,404.75 L549.00,404.73 L549.50,404.70 L550.00,404.68 L550.50,404.66 L551.00,404.63 L551.50,404.61 L552.00,404.59 L552.50,404.57 L553.00,404.55 L553.50,404.53 L554.00,404.51 L554.50,404.49 L555.00,404.47 L555.50,404.45 L556.00,404.43 L556.50,404.42 L557.00,404.40 L557.50,404.38 L558.00,404.37 L558.50,404.35 L559.00,404.33 L559.50,404.32 L560.00,404.30 L560.50,404.29 L561.00,404.27 L561.50,404.25 L562.00,404.24 L562.50,404.22 L563.00,404.21 L563.50,404.19 L564.00,404.17 L564.50,404.16 L565.00,404.14 L565.50,404.13 L566.00,404.11 L566.50,404.09 L567.00,404.08 L567.50,404.06 L568.00,404.05 L568.50,404.03 L569.00,404.02 L569.50,404.00 L570.00,403.99 L570.50,403.97 L571.00,403.96 L571.50,403.94 L572.00,403.92 L572.50,403.91 L573.00,403.90 L573.50,403.88 L574.00,403.87 L574.50,403.85 L575.00,403.84 L575.50,403.82 L576.00,403.81 L576.50,403.79 L577.00,403.78 L577.50,403.76 L578.00,403.75 L578.50,403.74 L579.00,403.72 L579.50,403.71 L580.00,403.70 L580.50,403.68 L581.00,403.67 L581.50,403.66 L582.00,403.64 L582.50,403.63 L583.00,403.62 L583.50,403.60 L584.00,403.59 L584.50,403.58 L585.00,403.56 L585.50,403.55 L586.00,403.54 L586.50,403.53 L587.00,403.52 L587.50,403.50 L588.00,403.49 L588.50,403.48 L589.00,403.47 L589.50,403.46 L590.00,403.45 L590.50,403.44 L591.00,403.42 L591.50,403.41 L592.00,403.40 L592.50,403.39 L593.00,403.38 L593.50,403.37 L594.00,403.36 L594.50,403.35 L595.00,403.34 L595.50,403.33 L596.00,403.32 L596.50,403.31 L597.00,403.31 L597.50,403.30 L598.00,403.29 L598.50,403.28 L599.00,403.27 L599.50,403.26 L600.00,403.25 L600.50,403.25 L601.00,403.24 L601.50,403.23 L602.00,403.22 L602.50,403.22 L603.00,403.21 L603.50,403.20 L604.00,403.20 L604.50,403.19 L605.00,403.18 L605.50,403.18 L606.00,403.17 L606.50,403.17 L607.00,403.16 L607.50,403.16 L608.00,403.15 L608.50,403.15 L609.00,403.14 L609.50,403.14 L610.00,403.13 L610.50,403.13 L611.00,403.13 L611.50,403.12 L612.00,403.12 L612.50,403.12 L613.00,403.11 L613.50,403.11 L614.00,403.11 L614.50,403.11 L615.00,403.11 L615.50,403.10 L616.00,403.10 L616.50,403.10 L617.00,403.10 L617.50,403.10 L618.00,403.10 L618.50,403.10" fill="none" stroke="#ff0a0a" stroke-width="1.7" stroke-linejoin="round" stroke-dasharray="5.7 5.6" stroke-dashoffset="0"/>
<path d="M352.50,413.40 L353.00,413.61 L353.50,413.81 L354.00,413.99 L354.50,414.17 L355.00,414.33 L355.50,414.47 L356.00,414.60 L356.50,414.71 L357.00,414.82 L357.50,414.92 L358.00,415.01 L358.50,415.09 L359.00,415.17 L359.50,415.24 L360.00,415.30 L360.50,415.36 L361.00,415.41 L361.50,415.46 L362.00,415.51 L362.50,415.55 L363.00,415.60 L363.50,415.64 L364.00,415.68 L364.50,415.71 L365.00,415.75 L365.50,415.79 L366.00,415.82 L366.50,415.86 L367.00,415.89 L367.50,415.92 L368.00,415.96 L368.50,415.99 L369.00,416.03 L369.50,416.06 L370.00,416.10 L370.50,416.14 L371.00,416.17 L371.50,416.21 L372.00,416.25 L372.50,416.29 L373.00,416.32 L373.50,416.36 L374.00,416.39 L374.50,416.43 L375.00,416.47 L375.50,416.50 L376.00,416.54 L376.50,416.57 L377.00,416.60 L377.50,416.64 L378.00,416.67 L378.50,416.70 L379.00,416.74 L379.50,416.77 L380.00,416.80 L380.50,416.83 L381.00,416.86 L381.50,416.89 L382.00,416.92 L382.50,416.95 L383.00,416.98 L383.50,417.01 L384.00,417.04 L384.50,417.07 L385.00,417.10 L385.50,417.13 L386.00,417.16 L386.50,417.19 L387.00,417.22 L387.50,417.25 L388.00,417.28 L388.50,417.30 L389.00,417.33 L389.50,417.36 L390.00,417.39 L390.50,417.41 L391.00,417.44 L391.50,417.47 L392.00,417.50 L392.50,417.52 L393.00,417.55 L393.50,417.57 L394.00,417.60 L394.50,417.63 L395.00,417.65 L395.50,417.68 L396.00,417.70 L396.50,417.73 L397.00,417.75 L397.50,417.78 L398.00,417.80 L398.50,417.83 L399.00,417.85 L399.50,417.88 L400.00,417.90 L400.50,417.92 L401.00,417.95 L401.50,417.97 L402.00,417.99 L402.50,418.02 L403.00,418.04 L403.50,418.06 L404.00,418.09 L404.50,418.11 L405.00,418.13 L405.50,418.15 L406.00,418.18 L406.50,418.20 L407.00,418.22 L407.50,418.24 L408.00,418.26 L408.50,418.29 L409.00,418.31 L409.50,418.33 L410.00,418.35 L410.50,418.37 L411.00,418.39 L411.50,418.41 L412.00,418.43 L412.50,418.45 L413.00,418.47 L413.50,418.49 L414.00,418.51 L414.50,418.53 L415.00,418.55 L415.50,418.57 L416.00,418.59 L416.50,418.61 L417.00,418.63 L417.50,418.65 L418.00,418.66 L418.50,418.68 L419.00,418.70 L419.50,540.00 L420.20,570.10 L420.70,568.39 L421.20,566.79 L421.70,565.34 L422.20,564.12 L422.70,563.20 L423.20,562.48 L423.70,561.82 L424.20,561.23 L424.70,560.72 L425.20,560.27 L425.70,559.90 L426.20,559.60 L426.70,559.36 L427.20,559.15 L427.70,558.95 L428.20,558.77 L428.70,558.61 L429.20,558.48 L429.70,558.36 L430.20,558.27 L430.70,558.21 L431.20,558.17 L431.70,558.12 L432.20,558.08 L432.70,558.05 L433.20,558.01 L433.70,557.98 L434.20,557.94 L434.70,557.91 L435.20,557.88 L435.70,557.86 L436.20,557.83 L436.70,557.81 L437.20,557.78 L437.70,557.76 L438.20,557.74 L438.70,557.72 L439.20,557.70 L439.70,557.68 L440.20,557.66 L440.70,557.65 L441.20,557.63 L441.70,557.61 L442.20,557.60 L442.70,557.58 L443.20,557.57 L443.70,557.56 L444.20,557.54 L444.70,557.53 L445.20,557.51 L445.70,557.50 L446.20,557.49 L446.70,557.47 L447.20,557.46 L447.70,557.45 L448.20,557.43 L448.70,557.42 L449.20,557.40 L449.70,557.38 L450.20,557.37 L450.70,557.35 L451.20,557.33 L451.70,557.31 L452.20,557.29 L452.70,557.27 L453.20,557.25 L453.70,557.23 L454.20,557.21 L454.70,557.19 L455.20,557.17 L455.70,557.15 L456.20,557.13 L456.70,557.11 L457.20,557.09 L457.70,557.07 L458.20,557.05 L458.70,557.03 L459.20,557.01 L459.70,556.99 L460.20,556.97 L460.70,556.95 L461.20,556.93 L461.70,556.91 L462.20,556.89 L462.70,556.87 L463.20,556.85 L463.70,556.83 L464.20,556.81 L464.70,556.79 L465.20,556.77 L465.70,556.75 L466.20,556.73 L466.70,556.71 L467.20,556.69 L467.70,556.67 L468.20,556.65 L468.70,556.63 L469.20,556.62 L469.70,556.60 L470.20,556.58 L470.70,556.56 L471.20,556.54 L471.70,556.52 L472.20,556.50 L472.70,556.48 L473.20,556.46 L473.70,556.44 L474.20,556.42 L474.70,556.40 L475.20,556.38 L475.70,556.37 L476.20,556.35 L476.70,556.33 L477.20,556.31 L477.70,556.29 L478.20,556.27 L478.70,556.25 L479.20,556.23 L479.70,556.21 L480.20,556.20 L480.70,556.18 L481.20,556.16 L481.70,556.14 L482.20,556.12 L482.70,556.10 L483.20,556.08 L483.70,556.07 L484.20,556.05 L484.70,556.03 L485.20,556.01 L485.50,556.00 L485.50,533.00 L486.00,528.51 L486.50,526.62 L487.00,525.07 L487.50,523.55 L488.00,522.20 L488.50,520.97 L489.00,519.82 L489.50,518.75 L490.00,517.75 L490.50,516.82 L491.00,515.94 L491.50,515.11 L492.00,514.33 L492.50,513.59 L493.00,512.89 L493.50,512.21 L494.00,511.56 L494.50,510.92 L495.00,510.28 L495.50,509.67 L496.00,509.07 L496.50,508.49 L497.00,507.93 L497.50,507.40 L498.00,506.90 L498.50,506.42 L499.00,505.96 L499.50,505.52 L500.00,505.10 L500.50,504.70 L501.00,504.32 L501.50,503.96 L502.00,503.61 L502.50,503.27 L503.00,502.95 L503.50,502.64 L504.00,502.33 L504.50,502.03 L505.00,501.74 L505.50,501.46 L506.00,501.18 L506.50,500.90 L507.00,500.63 L507.50,500.35 L508.00,500.08 L508.50,499.81 L509.00,499.55 L509.50,499.28 L510.00,499.03 L510.50,498.77 L511.00,498.52 L511.50,498.27 L512.00,498.03 L512.50,497.79 L513.00,497.56 L513.50,497.33 L514.00,497.11 L514.50,496.89 L515.00,496.68 L515.50,496.47 L516.00,496.26 L516.50,496.05 L517.00,495.85 L517.50,495.65 L518.00,495.46 L518.50,495.27 L519.00,495.09 L519.50,494.91 L520.00,494.73 L520.50,494.56 L521.00,494.40 L521.50,494.24 L522.00,494.08 L522.50,493.92 L523.00,493.77 L523.50,493.62 L524.00,493.48 L524.50,493.33 L525.00,493.19 L525.50,493.05 L526.00,492.91 L526.50,492.77 L527.00,492.64 L527.50,492.50 L528.00,492.37 L528.50,492.23 L529.00,492.10 L529.50,491.97 L530.00,491.85 L530.50,491.72 L531.00,491.59 L531.50,491.47 L532.00,491.35 L532.50,491.23 L533.00,491.11 L533.50,490.99 L534.00,490.88 L534.50,490.76 L535.00,490.65 L535.50,490.54 L536.00,490.43 L536.50,490.33 L537.00,490.22 L537.50,490.12 L538.00,490.01 L538.50,489.91 L539.00,489.81 L539.50,489.70 L540.00,489.60 L540.50,489.50 L541.00,489.39 L541.50,489.29 L542.00,489.19 L542.50,489.08 L543.00,488.98 L543.50,488.87 L544.00,488.77 L544.50,488.66 L545.00,488.56 L545.50,488.45 L546.00,488.35 L546.50,488.24 L547.00,488.14 L547.50,488.03 L548.00,487.93 L548.50,487.83 L549.00,487.72 L549.50,487.62 L550.00,487.52 L550.50,487.42 L551.00,487.32 L551.50,487.22 L552.00,487.12 L552.50,487.02 L553.00,486.92 L553.50,486.83 L554.00,486.73 L554.50,486.64 L555.00,486.55 L555.50,486.45 L556.00,486.36 L556.50,486.28 L557.00,486.19 L557.50,486.10 L558.00,486.02 L558.50,485.94 L559.00,485.86 L559.50,485.78 L560.00,485.70 L560.50,485.62 L561.00,485.55 L561.50,485.47 L562.00,485.40 L562.50,485.33 L563.00,485.26 L563.50,485.18 L564.00,485.11 L564.50,485.04 L565.00,484.97 L565.50,484.90 L566.00,484.84 L566.50,484.77 L567.00,484.70 L567.50,484.63 L568.00,484.57 L568.50,484.50 L569.00,484.44 L569.50,484.38 L570.00,484.31 L570.50,484.25 L571.00,484.19 L571.50,484.13 L572.00,484.07 L572.50,484.01 L573.00,483.95 L573.50,483.89 L574.00,483.83 L574.50,483.78 L575.00,483.72 L575.50,483.67 L576.00,483.61 L576.50,483.56 L577.00,483.51 L577.50,483.45 L578.00,483.40 L578.50,483.35 L579.00,483.30 L579.50,483.25 L580.00,483.20 L580.50,483.15 L581.00,483.10 L581.50,483.06 L582.00,483.01 L582.50,482.96 L583.00,482.92 L583.50,482.88 L584.00,482.83 L584.50,482.79 L585.00,482.75 L585.50,482.70 L586.00,482.66 L586.50,482.62 L587.00,482.58 L587.50,482.54 L588.00,482.50 L588.50,482.46 L589.00,482.42 L589.50,482.38 L590.00,482.34 L590.50,482.30 L591.00,482.27 L591.50,482.23 L592.00,482.19 L592.50,482.15 L593.00,482.12 L593.50,482.08 L594.00,482.04 L594.50,482.01 L595.00,481.97 L595.50,481.93 L596.00,481.90 L596.50,481.86 L597.00,481.82 L597.50,481.79 L598.00,481.75 L598.50,481.71 L599.00,481.67 L599.50,481.64 L600.00,481.60 L600.50,481.56 L601.00,481.53 L601.50,481.49 L602.00,481.45 L602.50,481.41 L603.00,481.38 L603.50,481.34 L604.00,481.30 L604.50,481.27 L605.00,481.23 L605.50,481.20 L606.00,481.16 L606.50,481.12 L607.00,481.09 L607.50,481.05 L608.00,481.02 L608.50,480.98 L609.00,480.95 L609.50,480.91 L610.00,480.88 L610.50,480.84 L611.00,480.81 L611.50,480.77 L612.00,480.74 L612.50,480.70 L613.00,480.67 L613.50,480.63 L614.00,480.60 L614.50,480.57 L615.00,480.53 L615.50,480.50 L616.00,480.47 L616.50,480.43 L617.00,480.40 L617.50,480.37 L618.00,480.33 L618.50,480.30" fill="none" stroke="#8c1519" stroke-width="1.5" stroke-linejoin="round"/>
<text x="329.8" y="66.6" font-size="12.6" text-anchor="end" style="fill:#5b80b5;stroke:#5b80b5;stroke-width:0.25">EDA</text>
<text x="329.8" y="83.8" font-size="12.6" text-anchor="end" style="fill:#0d0df5;stroke:#0d0df5;stroke-width:0.25">TETA</text>
<text x="330" y="219.9" font-size="12.6" text-anchor="end" style="fill:#1f3462;stroke:#1f3462;stroke-width:0.25">PEI</text>
<text x="612.3" y="67.2" font-size="12.6" text-anchor="end" style="fill:#5b80b5;stroke:#5b80b5;stroke-width:0.25">EDA</text>
<text x="612.3" y="85.6" font-size="12.6" text-anchor="end" style="fill:#0d0df5;stroke:#0d0df5;stroke-width:0.25">TETA</text>
<text x="613" y="215.6" font-size="12.6" text-anchor="end" style="fill:#1f3462;stroke:#1f3462;stroke-width:0.25">PEI</text>
<text x="328.6" y="395.8" font-size="12.6" text-anchor="end" style="fill:#e8a030;stroke:#e8a030;stroke-width:0.25">EG</text>
<text x="327.7" y="414.7" font-size="12.6" text-anchor="end" style="fill:#ff0a0a;stroke:#ff0a0a;stroke-width:0.25">TEG</text>
<text x="328.8" y="467.6" font-size="12.6" text-anchor="end" style="fill:#8c1519;stroke:#8c1519;stroke-width:0.25">PEG</text>
<text x="611.4" y="397.6" font-size="12.6" text-anchor="end" style="fill:#e8a030;stroke:#e8a030;stroke-width:0.25">EG</text>
<text x="610.3" y="417.4" font-size="12.6" text-anchor="end" style="fill:#ff0a0a;stroke:#ff0a0a;stroke-width:0.25">TEG</text>
<text x="612" y="476.5" font-size="12.6" text-anchor="end" style="fill:#8c1519;stroke:#8c1519;stroke-width:0.25">PEG</text>
</svg></body></html>
